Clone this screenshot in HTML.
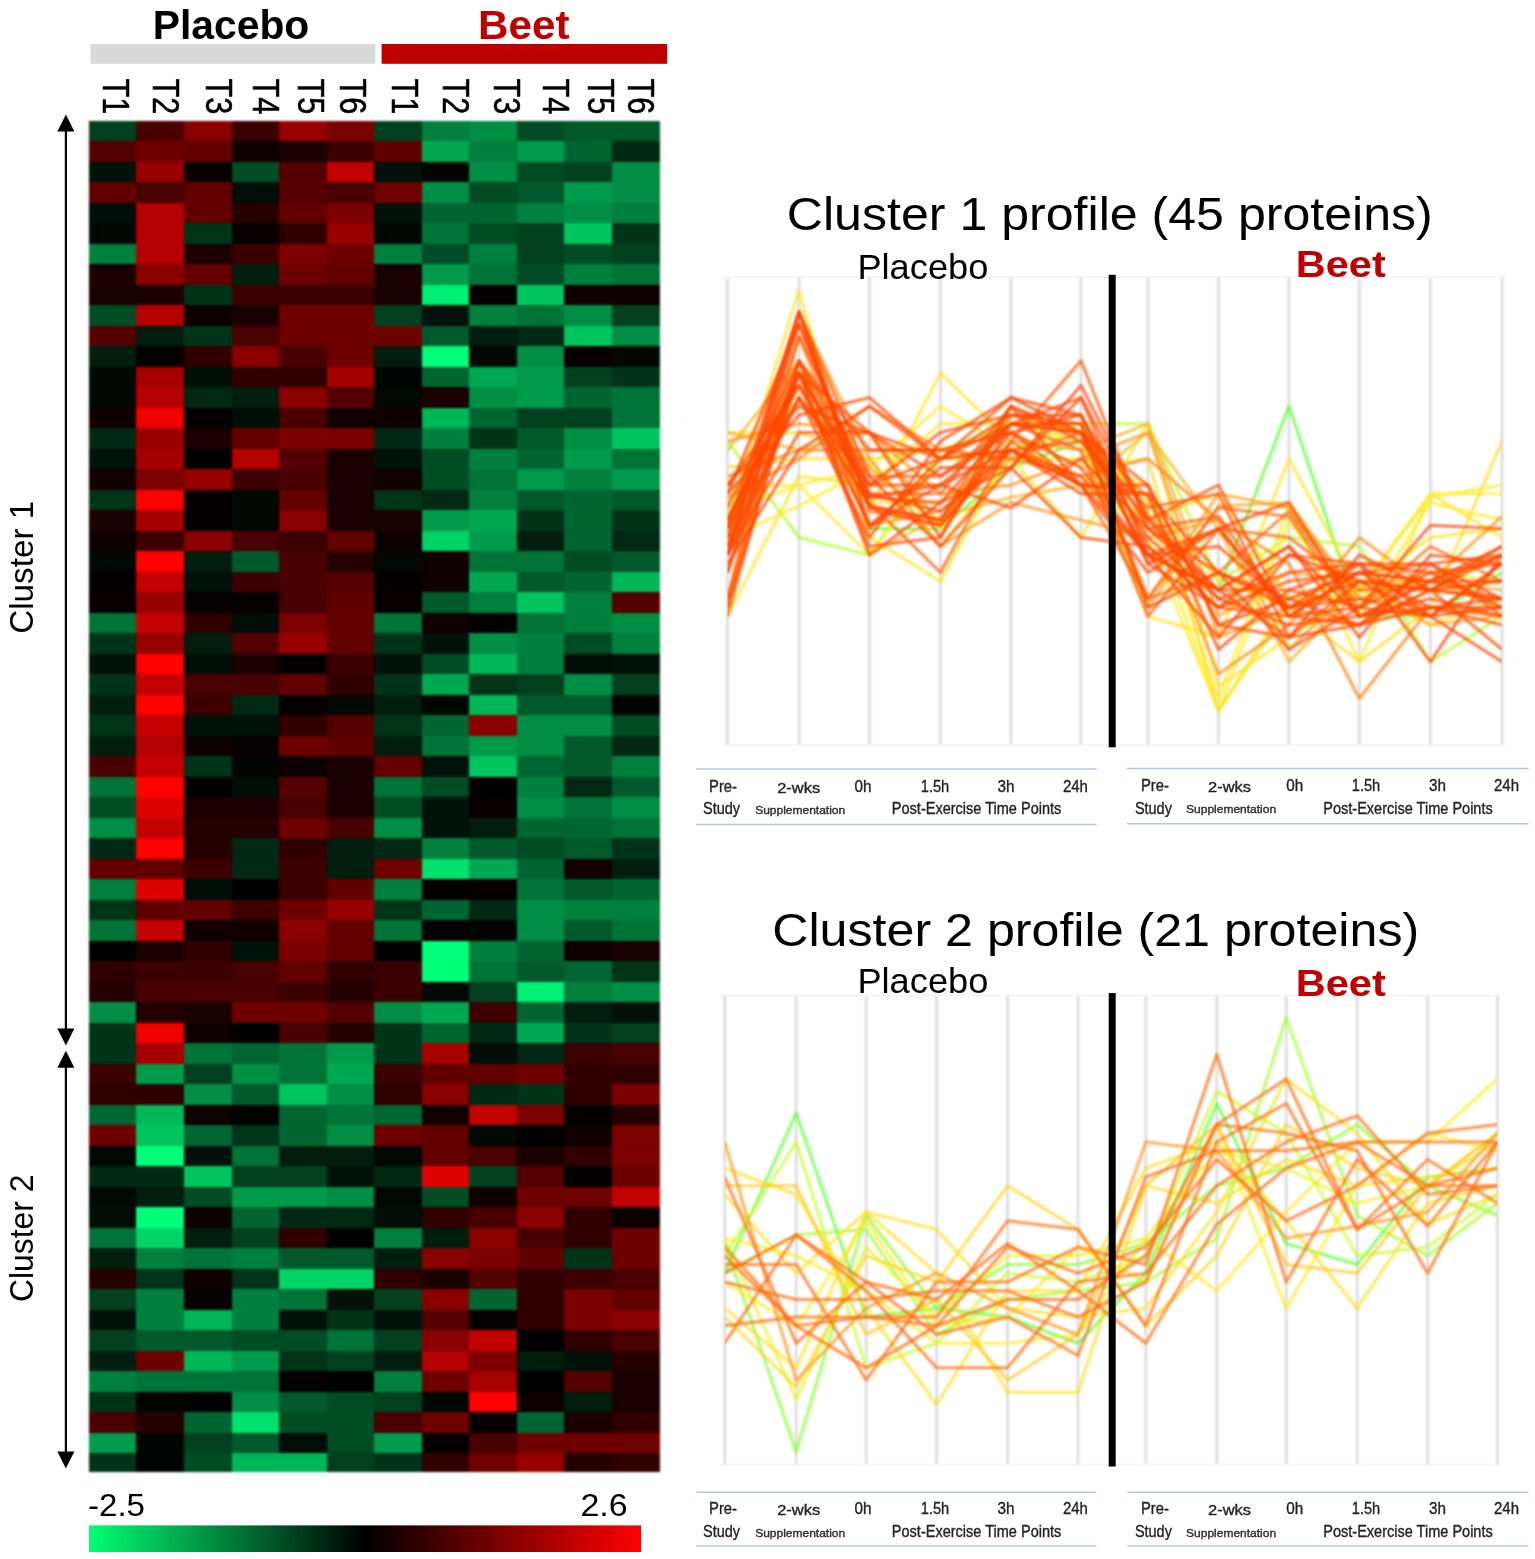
<!DOCTYPE html>
<html lang="en">
<head>
<meta charset="utf-8">
<title>Cluster heatmap and profiles</title>
<style>
html,body{margin:0;padding:0;background:#fff;}
body{width:1535px;height:1559px;overflow:hidden;}
svg{display:block;font-family:"Liberation Sans",sans-serif;}
</style>
</head>
<body>
<svg width="1535" height="1559" viewBox="0 0 1535 1559">
<defs>
<linearGradient id="cb" x1="0" x2="1" y1="0" y2="0">
<stop offset="0" stop-color="rgb(0,255,115)"/>
<stop offset="0.5" stop-color="#000"/>
<stop offset="1" stop-color="rgb(255,0,0)"/>
</linearGradient>
<filter id="b1" color-interpolation-filters="sRGB" x="-2%" y="-2%" width="104%" height="104%"><feGaussianBlur stdDeviation="1.2"/></filter>
<filter id="b2" color-interpolation-filters="sRGB" filterUnits="userSpaceOnUse" x="700" y="250" width="835" height="1250"><feGaussianBlur stdDeviation="0.8"/></filter>
<clipPath id="c1"><rect x="727.4" y="270" width="774.6" height="480"/></clipPath>
<clipPath id="c2"><rect x="724.7" y="990" width="772.8" height="480"/></clipPath>
</defs>
<rect width="1535" height="1559" fill="#fff"/>
<text x="152.8" y="38.5" font-size="41.5" font-weight="bold" textLength="156.5" lengthAdjust="spacingAndGlyphs">Placebo</text>
<text x="478.0" y="38.5" font-size="41.5" font-weight="bold" fill="#c00000" textLength="91.5" lengthAdjust="spacingAndGlyphs">Beet</text>
<rect x="90.4" y="44" width="285" height="19.8" fill="#d9d9d9"/>
<rect x="381.6" y="44" width="285.6" height="19.8" fill="#c00000"/>
<text font-size="36" textLength="35.8" lengthAdjust="spacingAndGlyphs" stroke="#000" stroke-width="0.5" transform="translate(103.0,78.6) rotate(90)">T1</text>
<text font-size="36" textLength="35.8" lengthAdjust="spacingAndGlyphs" stroke="#000" stroke-width="0.5" transform="translate(153.4,78.6) rotate(90)">T2</text>
<text font-size="36" textLength="35.8" lengthAdjust="spacingAndGlyphs" stroke="#000" stroke-width="0.5" transform="translate(206.2,78.6) rotate(90)">T3</text>
<text font-size="36" textLength="35.8" lengthAdjust="spacingAndGlyphs" stroke="#000" stroke-width="0.5" transform="translate(253.4,78.6) rotate(90)">T4</text>
<text font-size="36" textLength="35.8" lengthAdjust="spacingAndGlyphs" stroke="#000" stroke-width="0.5" transform="translate(298.0,78.6) rotate(90)">T5</text>
<text font-size="36" textLength="35.8" lengthAdjust="spacingAndGlyphs" stroke="#000" stroke-width="0.5" transform="translate(340.0,78.6) rotate(90)">T6</text>
<text font-size="36" textLength="35.8" lengthAdjust="spacingAndGlyphs" stroke="#000" stroke-width="0.5" transform="translate(391.6,78.6) rotate(90)">T1</text>
<text font-size="36" textLength="35.8" lengthAdjust="spacingAndGlyphs" stroke="#000" stroke-width="0.5" transform="translate(443.4,78.6) rotate(90)">T2</text>
<text font-size="36" textLength="35.8" lengthAdjust="spacingAndGlyphs" stroke="#000" stroke-width="0.5" transform="translate(494.0,78.6) rotate(90)">T3</text>
<text font-size="36" textLength="35.8" lengthAdjust="spacingAndGlyphs" stroke="#000" stroke-width="0.5" transform="translate(543.3,78.6) rotate(90)">T4</text>
<text font-size="36" textLength="35.8" lengthAdjust="spacingAndGlyphs" stroke="#000" stroke-width="0.5" transform="translate(587.9,78.6) rotate(90)">T5</text>
<text font-size="36" textLength="35.8" lengthAdjust="spacingAndGlyphs" stroke="#000" stroke-width="0.5" transform="translate(628.4,78.6) rotate(90)">T6</text>
<g filter="url(#b1)" shape-rendering="crispEdges">
<rect x="89" y="121" width="47" height="20" fill="rgb(0,64,31)"/>
<rect x="136" y="121" width="48" height="20" fill="rgb(72,0,0)"/>
<rect x="184" y="121" width="48" height="20" fill="rgb(138,0,0)"/>
<rect x="232" y="121" width="47" height="20" fill="rgb(60,0,0)"/>
<rect x="279" y="121" width="48" height="20" fill="rgb(152,0,0)"/>
<rect x="327" y="121" width="47" height="20" fill="rgb(124,0,0)"/>
<rect x="374" y="121" width="48" height="20" fill="rgb(0,64,31)"/>
<rect x="422" y="121" width="47" height="20" fill="rgb(0,128,61)"/>
<rect x="469" y="121" width="48" height="20" fill="rgb(0,142,68)"/>
<rect x="517" y="121" width="47" height="20" fill="rgb(0,76,36)"/>
<rect x="564" y="121" width="48" height="20" fill="rgb(0,89,43)"/>
<rect x="612" y="121" width="48" height="20" fill="rgb(0,89,43)"/>
<rect x="89" y="141" width="47" height="21" fill="rgb(85,0,0)"/>
<rect x="136" y="141" width="48" height="21" fill="rgb(111,0,0)"/>
<rect x="184" y="141" width="48" height="21" fill="rgb(98,0,0)"/>
<rect x="232" y="141" width="47" height="21" fill="rgb(16,0,0)"/>
<rect x="279" y="141" width="48" height="21" fill="rgb(26,0,0)"/>
<rect x="327" y="141" width="47" height="21" fill="rgb(60,0,0)"/>
<rect x="374" y="141" width="48" height="21" fill="rgb(98,0,0)"/>
<rect x="422" y="141" width="47" height="21" fill="rgb(0,169,81)"/>
<rect x="469" y="141" width="48" height="21" fill="rgb(0,128,61)"/>
<rect x="517" y="141" width="47" height="21" fill="rgb(0,155,74)"/>
<rect x="564" y="141" width="48" height="21" fill="rgb(0,102,49)"/>
<rect x="612" y="141" width="48" height="21" fill="rgb(0,40,19)"/>
<rect x="89" y="162" width="47" height="20" fill="rgb(0,18,9)"/>
<rect x="136" y="162" width="48" height="20" fill="rgb(152,0,0)"/>
<rect x="184" y="162" width="48" height="20" fill="rgb(7,0,0)"/>
<rect x="232" y="162" width="47" height="20" fill="rgb(0,76,36)"/>
<rect x="279" y="162" width="48" height="20" fill="rgb(85,0,0)"/>
<rect x="327" y="162" width="47" height="20" fill="rgb(195,0,0)"/>
<rect x="374" y="162" width="48" height="20" fill="rgb(0,18,9)"/>
<rect x="422" y="162" width="47" height="20" fill="rgb(0,5,2)"/>
<rect x="469" y="162" width="48" height="20" fill="rgb(0,142,68)"/>
<rect x="517" y="162" width="47" height="20" fill="rgb(0,76,36)"/>
<rect x="564" y="162" width="48" height="20" fill="rgb(0,64,31)"/>
<rect x="612" y="162" width="48" height="20" fill="rgb(0,142,68)"/>
<rect x="89" y="182" width="47" height="21" fill="rgb(98,0,0)"/>
<rect x="136" y="182" width="48" height="21" fill="rgb(72,0,0)"/>
<rect x="184" y="182" width="48" height="21" fill="rgb(98,0,0)"/>
<rect x="232" y="182" width="47" height="21" fill="rgb(0,14,7)"/>
<rect x="279" y="182" width="48" height="21" fill="rgb(85,0,0)"/>
<rect x="327" y="182" width="47" height="21" fill="rgb(72,0,0)"/>
<rect x="374" y="182" width="48" height="21" fill="rgb(111,0,0)"/>
<rect x="422" y="182" width="47" height="21" fill="rgb(0,142,68)"/>
<rect x="469" y="182" width="48" height="21" fill="rgb(0,76,36)"/>
<rect x="517" y="182" width="47" height="21" fill="rgb(0,89,43)"/>
<rect x="564" y="182" width="48" height="21" fill="rgb(0,155,74)"/>
<rect x="612" y="182" width="48" height="21" fill="rgb(0,142,68)"/>
<rect x="89" y="203" width="47" height="20" fill="rgb(0,14,7)"/>
<rect x="136" y="203" width="48" height="20" fill="rgb(181,0,0)"/>
<rect x="184" y="203" width="48" height="20" fill="rgb(98,0,0)"/>
<rect x="232" y="203" width="47" height="20" fill="rgb(37,0,0)"/>
<rect x="279" y="203" width="48" height="20" fill="rgb(98,0,0)"/>
<rect x="327" y="203" width="47" height="20" fill="rgb(124,0,0)"/>
<rect x="374" y="203" width="48" height="20" fill="rgb(0,18,9)"/>
<rect x="422" y="203" width="47" height="20" fill="rgb(0,102,49)"/>
<rect x="469" y="203" width="48" height="20" fill="rgb(0,102,49)"/>
<rect x="517" y="203" width="47" height="20" fill="rgb(0,128,61)"/>
<rect x="564" y="203" width="48" height="20" fill="rgb(0,142,68)"/>
<rect x="612" y="203" width="48" height="20" fill="rgb(0,128,61)"/>
<rect x="89" y="223" width="47" height="21" fill="rgb(0,8,4)"/>
<rect x="136" y="223" width="48" height="21" fill="rgb(181,0,0)"/>
<rect x="184" y="223" width="48" height="21" fill="rgb(0,52,25)"/>
<rect x="232" y="223" width="47" height="21" fill="rgb(7,0,0)"/>
<rect x="279" y="223" width="48" height="21" fill="rgb(48,0,0)"/>
<rect x="327" y="223" width="47" height="21" fill="rgb(152,0,0)"/>
<rect x="374" y="223" width="48" height="21" fill="rgb(0,8,4)"/>
<rect x="422" y="223" width="47" height="21" fill="rgb(0,115,55)"/>
<rect x="469" y="223" width="48" height="21" fill="rgb(0,76,36)"/>
<rect x="517" y="223" width="47" height="21" fill="rgb(0,64,31)"/>
<rect x="564" y="223" width="48" height="21" fill="rgb(0,197,95)"/>
<rect x="612" y="223" width="48" height="21" fill="rgb(0,52,25)"/>
<rect x="89" y="244" width="47" height="20" fill="rgb(0,128,61)"/>
<rect x="136" y="244" width="48" height="20" fill="rgb(181,0,0)"/>
<rect x="184" y="244" width="48" height="20" fill="rgb(26,0,0)"/>
<rect x="232" y="244" width="47" height="20" fill="rgb(60,0,0)"/>
<rect x="279" y="244" width="48" height="20" fill="rgb(124,0,0)"/>
<rect x="327" y="244" width="47" height="20" fill="rgb(111,0,0)"/>
<rect x="374" y="244" width="48" height="20" fill="rgb(0,128,61)"/>
<rect x="422" y="244" width="47" height="20" fill="rgb(0,76,36)"/>
<rect x="469" y="244" width="48" height="20" fill="rgb(0,128,61)"/>
<rect x="517" y="244" width="47" height="20" fill="rgb(0,64,31)"/>
<rect x="564" y="244" width="48" height="20" fill="rgb(0,76,36)"/>
<rect x="612" y="244" width="48" height="20" fill="rgb(0,64,31)"/>
<rect x="89" y="264" width="47" height="21" fill="rgb(26,0,0)"/>
<rect x="136" y="264" width="48" height="21" fill="rgb(138,0,0)"/>
<rect x="184" y="264" width="48" height="21" fill="rgb(98,0,0)"/>
<rect x="232" y="264" width="47" height="21" fill="rgb(0,29,14)"/>
<rect x="279" y="264" width="48" height="21" fill="rgb(111,0,0)"/>
<rect x="327" y="264" width="47" height="21" fill="rgb(98,0,0)"/>
<rect x="374" y="264" width="48" height="21" fill="rgb(26,0,0)"/>
<rect x="422" y="264" width="47" height="21" fill="rgb(0,155,74)"/>
<rect x="469" y="264" width="48" height="21" fill="rgb(0,115,55)"/>
<rect x="517" y="264" width="47" height="21" fill="rgb(0,76,36)"/>
<rect x="564" y="264" width="48" height="21" fill="rgb(0,128,61)"/>
<rect x="612" y="264" width="48" height="21" fill="rgb(0,115,55)"/>
<rect x="89" y="285" width="47" height="20" fill="rgb(26,0,0)"/>
<rect x="136" y="285" width="48" height="20" fill="rgb(26,0,0)"/>
<rect x="184" y="285" width="48" height="20" fill="rgb(0,52,25)"/>
<rect x="232" y="285" width="47" height="20" fill="rgb(60,0,0)"/>
<rect x="279" y="285" width="48" height="20" fill="rgb(60,0,0)"/>
<rect x="327" y="285" width="47" height="20" fill="rgb(60,0,0)"/>
<rect x="374" y="285" width="48" height="20" fill="rgb(26,0,0)"/>
<rect x="422" y="285" width="47" height="20" fill="rgb(0,240,115)"/>
<rect x="469" y="285" width="48" height="20" fill="rgb(4,0,0)"/>
<rect x="517" y="285" width="47" height="20" fill="rgb(0,197,95)"/>
<rect x="564" y="285" width="48" height="20" fill="rgb(16,0,0)"/>
<rect x="612" y="285" width="48" height="20" fill="rgb(16,0,0)"/>
<rect x="89" y="305" width="47" height="21" fill="rgb(0,76,36)"/>
<rect x="136" y="305" width="48" height="21" fill="rgb(181,0,0)"/>
<rect x="184" y="305" width="48" height="21" fill="rgb(12,0,0)"/>
<rect x="232" y="305" width="47" height="21" fill="rgb(26,0,0)"/>
<rect x="279" y="305" width="48" height="21" fill="rgb(111,0,0)"/>
<rect x="327" y="305" width="47" height="21" fill="rgb(111,0,0)"/>
<rect x="374" y="305" width="48" height="21" fill="rgb(0,64,31)"/>
<rect x="422" y="305" width="47" height="21" fill="rgb(0,18,9)"/>
<rect x="469" y="305" width="48" height="21" fill="rgb(0,128,61)"/>
<rect x="517" y="305" width="47" height="21" fill="rgb(0,115,55)"/>
<rect x="564" y="305" width="48" height="21" fill="rgb(0,142,68)"/>
<rect x="612" y="305" width="48" height="21" fill="rgb(0,64,31)"/>
<rect x="89" y="326" width="47" height="20" fill="rgb(85,0,0)"/>
<rect x="136" y="326" width="48" height="20" fill="rgb(0,29,14)"/>
<rect x="184" y="326" width="48" height="20" fill="rgb(0,52,25)"/>
<rect x="232" y="326" width="47" height="20" fill="rgb(72,0,0)"/>
<rect x="279" y="326" width="48" height="20" fill="rgb(111,0,0)"/>
<rect x="327" y="326" width="47" height="20" fill="rgb(111,0,0)"/>
<rect x="374" y="326" width="48" height="20" fill="rgb(111,0,0)"/>
<rect x="422" y="326" width="47" height="20" fill="rgb(0,89,43)"/>
<rect x="469" y="326" width="48" height="20" fill="rgb(0,29,14)"/>
<rect x="517" y="326" width="47" height="20" fill="rgb(0,40,19)"/>
<rect x="564" y="326" width="48" height="20" fill="rgb(0,197,95)"/>
<rect x="612" y="326" width="48" height="20" fill="rgb(0,142,68)"/>
<rect x="89" y="346" width="47" height="21" fill="rgb(0,29,14)"/>
<rect x="136" y="346" width="48" height="21" fill="rgb(4,0,0)"/>
<rect x="184" y="346" width="48" height="21" fill="rgb(48,0,0)"/>
<rect x="232" y="346" width="47" height="21" fill="rgb(138,0,0)"/>
<rect x="279" y="346" width="48" height="21" fill="rgb(72,0,0)"/>
<rect x="327" y="346" width="47" height="21" fill="rgb(111,0,0)"/>
<rect x="374" y="346" width="48" height="21" fill="rgb(0,29,14)"/>
<rect x="422" y="346" width="47" height="21" fill="rgb(0,255,122)"/>
<rect x="469" y="346" width="48" height="21" fill="rgb(0,8,4)"/>
<rect x="517" y="346" width="47" height="21" fill="rgb(0,142,68)"/>
<rect x="564" y="346" width="48" height="21" fill="rgb(7,0,0)"/>
<rect x="612" y="346" width="48" height="21" fill="rgb(0,8,4)"/>
<rect x="89" y="367" width="47" height="20" fill="rgb(0,8,4)"/>
<rect x="136" y="367" width="48" height="20" fill="rgb(166,0,0)"/>
<rect x="184" y="367" width="48" height="20" fill="rgb(0,14,7)"/>
<rect x="232" y="367" width="47" height="20" fill="rgb(48,0,0)"/>
<rect x="279" y="367" width="48" height="20" fill="rgb(48,0,0)"/>
<rect x="327" y="367" width="47" height="20" fill="rgb(166,0,0)"/>
<rect x="374" y="367" width="48" height="20" fill="rgb(0,5,2)"/>
<rect x="422" y="367" width="47" height="20" fill="rgb(0,102,49)"/>
<rect x="469" y="367" width="48" height="20" fill="rgb(0,169,81)"/>
<rect x="517" y="367" width="47" height="20" fill="rgb(0,155,74)"/>
<rect x="564" y="367" width="48" height="20" fill="rgb(0,64,31)"/>
<rect x="612" y="367" width="48" height="20" fill="rgb(0,52,25)"/>
<rect x="89" y="387" width="47" height="21" fill="rgb(0,8,4)"/>
<rect x="136" y="387" width="48" height="21" fill="rgb(181,0,0)"/>
<rect x="184" y="387" width="48" height="21" fill="rgb(0,40,19)"/>
<rect x="232" y="387" width="47" height="21" fill="rgb(0,29,14)"/>
<rect x="279" y="387" width="48" height="21" fill="rgb(138,0,0)"/>
<rect x="327" y="387" width="47" height="21" fill="rgb(85,0,0)"/>
<rect x="374" y="387" width="48" height="21" fill="rgb(0,8,4)"/>
<rect x="422" y="387" width="47" height="21" fill="rgb(26,0,0)"/>
<rect x="469" y="387" width="48" height="21" fill="rgb(0,142,68)"/>
<rect x="517" y="387" width="47" height="21" fill="rgb(0,155,74)"/>
<rect x="564" y="387" width="48" height="21" fill="rgb(0,102,49)"/>
<rect x="612" y="387" width="48" height="21" fill="rgb(0,115,55)"/>
<rect x="89" y="408" width="47" height="20" fill="rgb(16,0,0)"/>
<rect x="136" y="408" width="48" height="20" fill="rgb(240,0,0)"/>
<rect x="184" y="408" width="48" height="20" fill="rgb(2,0,0)"/>
<rect x="232" y="408" width="47" height="20" fill="rgb(0,14,7)"/>
<rect x="279" y="408" width="48" height="20" fill="rgb(72,0,0)"/>
<rect x="327" y="408" width="47" height="20" fill="rgb(16,0,0)"/>
<rect x="374" y="408" width="48" height="20" fill="rgb(16,0,0)"/>
<rect x="422" y="408" width="47" height="20" fill="rgb(0,183,88)"/>
<rect x="469" y="408" width="48" height="20" fill="rgb(0,102,49)"/>
<rect x="517" y="408" width="47" height="20" fill="rgb(0,64,31)"/>
<rect x="564" y="408" width="48" height="20" fill="rgb(0,64,31)"/>
<rect x="612" y="408" width="48" height="20" fill="rgb(0,115,55)"/>
<rect x="89" y="428" width="47" height="21" fill="rgb(0,40,19)"/>
<rect x="136" y="428" width="48" height="21" fill="rgb(152,0,0)"/>
<rect x="184" y="428" width="48" height="21" fill="rgb(26,0,0)"/>
<rect x="232" y="428" width="47" height="21" fill="rgb(98,0,0)"/>
<rect x="279" y="428" width="48" height="21" fill="rgb(124,0,0)"/>
<rect x="327" y="428" width="47" height="21" fill="rgb(124,0,0)"/>
<rect x="374" y="428" width="48" height="21" fill="rgb(0,40,19)"/>
<rect x="422" y="428" width="47" height="21" fill="rgb(0,128,61)"/>
<rect x="469" y="428" width="48" height="21" fill="rgb(0,52,25)"/>
<rect x="517" y="428" width="47" height="21" fill="rgb(0,89,43)"/>
<rect x="564" y="428" width="48" height="21" fill="rgb(0,142,68)"/>
<rect x="612" y="428" width="48" height="21" fill="rgb(0,197,95)"/>
<rect x="89" y="449" width="47" height="20" fill="rgb(0,18,9)"/>
<rect x="136" y="449" width="48" height="20" fill="rgb(166,0,0)"/>
<rect x="184" y="449" width="48" height="20" fill="rgb(2,0,0)"/>
<rect x="232" y="449" width="47" height="20" fill="rgb(181,0,0)"/>
<rect x="279" y="449" width="48" height="20" fill="rgb(85,0,0)"/>
<rect x="327" y="449" width="47" height="20" fill="rgb(26,0,0)"/>
<rect x="374" y="449" width="48" height="20" fill="rgb(0,18,9)"/>
<rect x="422" y="449" width="47" height="20" fill="rgb(0,76,36)"/>
<rect x="469" y="449" width="48" height="20" fill="rgb(0,128,61)"/>
<rect x="517" y="449" width="47" height="20" fill="rgb(0,102,49)"/>
<rect x="564" y="449" width="48" height="20" fill="rgb(0,155,74)"/>
<rect x="612" y="449" width="48" height="20" fill="rgb(0,115,55)"/>
<rect x="89" y="469" width="47" height="21" fill="rgb(16,0,0)"/>
<rect x="136" y="469" width="48" height="21" fill="rgb(124,0,0)"/>
<rect x="184" y="469" width="48" height="21" fill="rgb(152,0,0)"/>
<rect x="232" y="469" width="47" height="21" fill="rgb(60,0,0)"/>
<rect x="279" y="469" width="48" height="21" fill="rgb(72,0,0)"/>
<rect x="327" y="469" width="47" height="21" fill="rgb(26,0,0)"/>
<rect x="374" y="469" width="48" height="21" fill="rgb(16,0,0)"/>
<rect x="422" y="469" width="47" height="21" fill="rgb(0,76,36)"/>
<rect x="469" y="469" width="48" height="21" fill="rgb(0,115,55)"/>
<rect x="517" y="469" width="47" height="21" fill="rgb(0,155,74)"/>
<rect x="564" y="469" width="48" height="21" fill="rgb(0,128,61)"/>
<rect x="612" y="469" width="48" height="21" fill="rgb(0,155,74)"/>
<rect x="89" y="490" width="47" height="20" fill="rgb(0,52,25)"/>
<rect x="136" y="490" width="48" height="20" fill="rgb(255,0,0)"/>
<rect x="184" y="490" width="48" height="20" fill="rgb(4,0,0)"/>
<rect x="232" y="490" width="47" height="20" fill="rgb(0,8,4)"/>
<rect x="279" y="490" width="48" height="20" fill="rgb(98,0,0)"/>
<rect x="327" y="490" width="47" height="20" fill="rgb(26,0,0)"/>
<rect x="374" y="490" width="48" height="20" fill="rgb(0,52,25)"/>
<rect x="422" y="490" width="47" height="20" fill="rgb(0,40,19)"/>
<rect x="469" y="490" width="48" height="20" fill="rgb(0,128,61)"/>
<rect x="517" y="490" width="47" height="20" fill="rgb(0,89,43)"/>
<rect x="564" y="490" width="48" height="20" fill="rgb(0,102,49)"/>
<rect x="612" y="490" width="48" height="20" fill="rgb(0,89,43)"/>
<rect x="89" y="510" width="47" height="21" fill="rgb(26,0,0)"/>
<rect x="136" y="510" width="48" height="21" fill="rgb(166,0,0)"/>
<rect x="184" y="510" width="48" height="21" fill="rgb(4,0,0)"/>
<rect x="232" y="510" width="47" height="21" fill="rgb(0,8,4)"/>
<rect x="279" y="510" width="48" height="21" fill="rgb(138,0,0)"/>
<rect x="327" y="510" width="47" height="21" fill="rgb(26,0,0)"/>
<rect x="374" y="510" width="48" height="21" fill="rgb(26,0,0)"/>
<rect x="422" y="510" width="47" height="21" fill="rgb(0,155,74)"/>
<rect x="469" y="510" width="48" height="21" fill="rgb(0,169,81)"/>
<rect x="517" y="510" width="47" height="21" fill="rgb(0,52,25)"/>
<rect x="564" y="510" width="48" height="21" fill="rgb(0,102,49)"/>
<rect x="612" y="510" width="48" height="21" fill="rgb(0,52,25)"/>
<rect x="89" y="531" width="47" height="20" fill="rgb(12,0,0)"/>
<rect x="136" y="531" width="48" height="20" fill="rgb(60,0,0)"/>
<rect x="184" y="531" width="48" height="20" fill="rgb(138,0,0)"/>
<rect x="232" y="531" width="47" height="20" fill="rgb(72,0,0)"/>
<rect x="279" y="531" width="48" height="20" fill="rgb(60,0,0)"/>
<rect x="327" y="531" width="47" height="20" fill="rgb(98,0,0)"/>
<rect x="374" y="531" width="48" height="20" fill="rgb(12,0,0)"/>
<rect x="422" y="531" width="47" height="20" fill="rgb(0,212,102)"/>
<rect x="469" y="531" width="48" height="20" fill="rgb(0,155,74)"/>
<rect x="517" y="531" width="47" height="20" fill="rgb(0,29,14)"/>
<rect x="564" y="531" width="48" height="20" fill="rgb(0,102,49)"/>
<rect x="612" y="531" width="48" height="20" fill="rgb(0,40,19)"/>
<rect x="89" y="551" width="47" height="21" fill="rgb(0,8,4)"/>
<rect x="136" y="551" width="48" height="21" fill="rgb(255,0,0)"/>
<rect x="184" y="551" width="48" height="21" fill="rgb(0,29,14)"/>
<rect x="232" y="551" width="47" height="21" fill="rgb(0,89,43)"/>
<rect x="279" y="551" width="48" height="21" fill="rgb(72,0,0)"/>
<rect x="327" y="551" width="47" height="21" fill="rgb(37,0,0)"/>
<rect x="374" y="551" width="48" height="21" fill="rgb(0,8,4)"/>
<rect x="422" y="551" width="47" height="21" fill="rgb(16,0,0)"/>
<rect x="469" y="551" width="48" height="21" fill="rgb(0,115,55)"/>
<rect x="517" y="551" width="47" height="21" fill="rgb(0,115,55)"/>
<rect x="564" y="551" width="48" height="21" fill="rgb(0,76,36)"/>
<rect x="612" y="551" width="48" height="21" fill="rgb(0,89,43)"/>
<rect x="89" y="572" width="47" height="20" fill="rgb(2,0,0)"/>
<rect x="136" y="572" width="48" height="20" fill="rgb(195,0,0)"/>
<rect x="184" y="572" width="48" height="20" fill="rgb(0,18,9)"/>
<rect x="232" y="572" width="47" height="20" fill="rgb(60,0,0)"/>
<rect x="279" y="572" width="48" height="20" fill="rgb(72,0,0)"/>
<rect x="327" y="572" width="47" height="20" fill="rgb(85,0,0)"/>
<rect x="374" y="572" width="48" height="20" fill="rgb(2,0,0)"/>
<rect x="422" y="572" width="47" height="20" fill="rgb(16,0,0)"/>
<rect x="469" y="572" width="48" height="20" fill="rgb(0,169,81)"/>
<rect x="517" y="572" width="47" height="20" fill="rgb(0,89,43)"/>
<rect x="564" y="572" width="48" height="20" fill="rgb(0,102,49)"/>
<rect x="612" y="572" width="48" height="20" fill="rgb(0,183,88)"/>
<rect x="89" y="592" width="47" height="21" fill="rgb(7,0,0)"/>
<rect x="136" y="592" width="48" height="21" fill="rgb(152,0,0)"/>
<rect x="184" y="592" width="48" height="21" fill="rgb(7,0,0)"/>
<rect x="232" y="592" width="47" height="21" fill="rgb(7,0,0)"/>
<rect x="279" y="592" width="48" height="21" fill="rgb(72,0,0)"/>
<rect x="327" y="592" width="47" height="21" fill="rgb(98,0,0)"/>
<rect x="374" y="592" width="48" height="21" fill="rgb(7,0,0)"/>
<rect x="422" y="592" width="47" height="21" fill="rgb(0,89,43)"/>
<rect x="469" y="592" width="48" height="21" fill="rgb(0,128,61)"/>
<rect x="517" y="592" width="47" height="21" fill="rgb(0,197,95)"/>
<rect x="564" y="592" width="48" height="21" fill="rgb(0,128,61)"/>
<rect x="612" y="592" width="48" height="21" fill="rgb(85,0,0)"/>
<rect x="89" y="613" width="47" height="20" fill="rgb(0,115,55)"/>
<rect x="136" y="613" width="48" height="20" fill="rgb(195,0,0)"/>
<rect x="184" y="613" width="48" height="20" fill="rgb(48,0,0)"/>
<rect x="232" y="613" width="47" height="20" fill="rgb(0,14,7)"/>
<rect x="279" y="613" width="48" height="20" fill="rgb(124,0,0)"/>
<rect x="327" y="613" width="47" height="20" fill="rgb(98,0,0)"/>
<rect x="374" y="613" width="48" height="20" fill="rgb(0,115,55)"/>
<rect x="422" y="613" width="47" height="20" fill="rgb(16,0,0)"/>
<rect x="469" y="613" width="48" height="20" fill="rgb(2,0,0)"/>
<rect x="517" y="613" width="47" height="20" fill="rgb(0,115,55)"/>
<rect x="564" y="613" width="48" height="20" fill="rgb(0,128,61)"/>
<rect x="612" y="613" width="48" height="20" fill="rgb(0,142,68)"/>
<rect x="89" y="633" width="47" height="21" fill="rgb(0,52,25)"/>
<rect x="136" y="633" width="48" height="21" fill="rgb(152,0,0)"/>
<rect x="184" y="633" width="48" height="21" fill="rgb(0,29,14)"/>
<rect x="232" y="633" width="47" height="21" fill="rgb(85,0,0)"/>
<rect x="279" y="633" width="48" height="21" fill="rgb(152,0,0)"/>
<rect x="327" y="633" width="47" height="21" fill="rgb(98,0,0)"/>
<rect x="374" y="633" width="48" height="21" fill="rgb(0,52,25)"/>
<rect x="422" y="633" width="47" height="21" fill="rgb(0,18,9)"/>
<rect x="469" y="633" width="48" height="21" fill="rgb(0,142,68)"/>
<rect x="517" y="633" width="47" height="21" fill="rgb(0,128,61)"/>
<rect x="564" y="633" width="48" height="21" fill="rgb(0,76,36)"/>
<rect x="612" y="633" width="48" height="21" fill="rgb(0,128,61)"/>
<rect x="89" y="654" width="47" height="20" fill="rgb(0,18,9)"/>
<rect x="136" y="654" width="48" height="20" fill="rgb(255,0,0)"/>
<rect x="184" y="654" width="48" height="20" fill="rgb(0,14,7)"/>
<rect x="232" y="654" width="47" height="20" fill="rgb(26,0,0)"/>
<rect x="279" y="654" width="48" height="20" fill="rgb(2,0,0)"/>
<rect x="327" y="654" width="47" height="20" fill="rgb(60,0,0)"/>
<rect x="374" y="654" width="48" height="20" fill="rgb(0,18,9)"/>
<rect x="422" y="654" width="47" height="20" fill="rgb(0,76,36)"/>
<rect x="469" y="654" width="48" height="20" fill="rgb(0,183,88)"/>
<rect x="517" y="654" width="47" height="20" fill="rgb(0,128,61)"/>
<rect x="564" y="654" width="48" height="20" fill="rgb(0,14,7)"/>
<rect x="612" y="654" width="48" height="20" fill="rgb(0,18,9)"/>
<rect x="89" y="674" width="47" height="21" fill="rgb(0,52,25)"/>
<rect x="136" y="674" width="48" height="21" fill="rgb(195,0,0)"/>
<rect x="184" y="674" width="48" height="21" fill="rgb(72,0,0)"/>
<rect x="232" y="674" width="47" height="21" fill="rgb(72,0,0)"/>
<rect x="279" y="674" width="48" height="21" fill="rgb(98,0,0)"/>
<rect x="327" y="674" width="47" height="21" fill="rgb(48,0,0)"/>
<rect x="374" y="674" width="48" height="21" fill="rgb(0,52,25)"/>
<rect x="422" y="674" width="47" height="21" fill="rgb(0,169,81)"/>
<rect x="469" y="674" width="48" height="21" fill="rgb(0,52,25)"/>
<rect x="517" y="674" width="47" height="21" fill="rgb(0,64,31)"/>
<rect x="564" y="674" width="48" height="21" fill="rgb(0,142,68)"/>
<rect x="612" y="674" width="48" height="21" fill="rgb(0,64,31)"/>
<rect x="89" y="695" width="47" height="20" fill="rgb(0,29,14)"/>
<rect x="136" y="695" width="48" height="20" fill="rgb(255,0,0)"/>
<rect x="184" y="695" width="48" height="20" fill="rgb(60,0,0)"/>
<rect x="232" y="695" width="47" height="20" fill="rgb(0,40,19)"/>
<rect x="279" y="695" width="48" height="20" fill="rgb(7,0,0)"/>
<rect x="327" y="695" width="47" height="20" fill="rgb(0,8,4)"/>
<rect x="374" y="695" width="48" height="20" fill="rgb(0,29,14)"/>
<rect x="422" y="695" width="47" height="20" fill="rgb(0,8,4)"/>
<rect x="469" y="695" width="48" height="20" fill="rgb(0,183,88)"/>
<rect x="517" y="695" width="47" height="20" fill="rgb(0,89,43)"/>
<rect x="564" y="695" width="48" height="20" fill="rgb(0,89,43)"/>
<rect x="612" y="695" width="48" height="20" fill="rgb(0,5,2)"/>
<rect x="89" y="715" width="47" height="21" fill="rgb(0,52,25)"/>
<rect x="136" y="715" width="48" height="21" fill="rgb(195,0,0)"/>
<rect x="184" y="715" width="48" height="21" fill="rgb(0,18,9)"/>
<rect x="232" y="715" width="47" height="21" fill="rgb(0,18,9)"/>
<rect x="279" y="715" width="48" height="21" fill="rgb(48,0,0)"/>
<rect x="327" y="715" width="47" height="21" fill="rgb(85,0,0)"/>
<rect x="374" y="715" width="48" height="21" fill="rgb(0,52,25)"/>
<rect x="422" y="715" width="47" height="21" fill="rgb(0,102,49)"/>
<rect x="469" y="715" width="48" height="21" fill="rgb(138,0,0)"/>
<rect x="517" y="715" width="47" height="21" fill="rgb(0,142,68)"/>
<rect x="564" y="715" width="48" height="21" fill="rgb(0,142,68)"/>
<rect x="612" y="715" width="48" height="21" fill="rgb(0,76,36)"/>
<rect x="89" y="736" width="47" height="20" fill="rgb(0,29,14)"/>
<rect x="136" y="736" width="48" height="20" fill="rgb(181,0,0)"/>
<rect x="184" y="736" width="48" height="20" fill="rgb(12,0,0)"/>
<rect x="232" y="736" width="47" height="20" fill="rgb(7,0,0)"/>
<rect x="279" y="736" width="48" height="20" fill="rgb(111,0,0)"/>
<rect x="327" y="736" width="47" height="20" fill="rgb(98,0,0)"/>
<rect x="374" y="736" width="48" height="20" fill="rgb(0,29,14)"/>
<rect x="422" y="736" width="47" height="20" fill="rgb(0,115,55)"/>
<rect x="469" y="736" width="48" height="20" fill="rgb(0,155,74)"/>
<rect x="517" y="736" width="47" height="20" fill="rgb(0,142,68)"/>
<rect x="564" y="736" width="48" height="20" fill="rgb(0,89,43)"/>
<rect x="612" y="736" width="48" height="20" fill="rgb(0,40,19)"/>
<rect x="89" y="756" width="47" height="21" fill="rgb(72,0,0)"/>
<rect x="136" y="756" width="48" height="21" fill="rgb(195,0,0)"/>
<rect x="184" y="756" width="48" height="21" fill="rgb(0,52,25)"/>
<rect x="232" y="756" width="47" height="21" fill="rgb(0,5,2)"/>
<rect x="279" y="756" width="48" height="21" fill="rgb(12,0,0)"/>
<rect x="327" y="756" width="47" height="21" fill="rgb(26,0,0)"/>
<rect x="374" y="756" width="48" height="21" fill="rgb(98,0,0)"/>
<rect x="422" y="756" width="47" height="21" fill="rgb(0,18,9)"/>
<rect x="469" y="756" width="48" height="21" fill="rgb(0,197,95)"/>
<rect x="517" y="756" width="47" height="21" fill="rgb(0,102,49)"/>
<rect x="564" y="756" width="48" height="21" fill="rgb(0,89,43)"/>
<rect x="612" y="756" width="48" height="21" fill="rgb(0,128,61)"/>
<rect x="89" y="777" width="47" height="20" fill="rgb(0,115,55)"/>
<rect x="136" y="777" width="48" height="20" fill="rgb(255,0,0)"/>
<rect x="184" y="777" width="48" height="20" fill="rgb(0,0,0)"/>
<rect x="232" y="777" width="47" height="20" fill="rgb(0,14,7)"/>
<rect x="279" y="777" width="48" height="20" fill="rgb(85,0,0)"/>
<rect x="327" y="777" width="47" height="20" fill="rgb(26,0,0)"/>
<rect x="374" y="777" width="48" height="20" fill="rgb(0,115,55)"/>
<rect x="422" y="777" width="47" height="20" fill="rgb(0,76,36)"/>
<rect x="469" y="777" width="48" height="20" fill="rgb(0,0,0)"/>
<rect x="517" y="777" width="47" height="20" fill="rgb(0,128,61)"/>
<rect x="564" y="777" width="48" height="20" fill="rgb(0,40,19)"/>
<rect x="612" y="777" width="48" height="20" fill="rgb(0,89,43)"/>
<rect x="89" y="797" width="47" height="21" fill="rgb(0,76,36)"/>
<rect x="136" y="797" width="48" height="21" fill="rgb(225,0,0)"/>
<rect x="184" y="797" width="48" height="21" fill="rgb(26,0,0)"/>
<rect x="232" y="797" width="47" height="21" fill="rgb(26,0,0)"/>
<rect x="279" y="797" width="48" height="21" fill="rgb(72,0,0)"/>
<rect x="327" y="797" width="47" height="21" fill="rgb(26,0,0)"/>
<rect x="374" y="797" width="48" height="21" fill="rgb(0,76,36)"/>
<rect x="422" y="797" width="47" height="21" fill="rgb(0,18,9)"/>
<rect x="469" y="797" width="48" height="21" fill="rgb(7,0,0)"/>
<rect x="517" y="797" width="47" height="21" fill="rgb(0,142,68)"/>
<rect x="564" y="797" width="48" height="21" fill="rgb(0,115,55)"/>
<rect x="612" y="797" width="48" height="21" fill="rgb(0,142,68)"/>
<rect x="89" y="818" width="47" height="20" fill="rgb(0,142,68)"/>
<rect x="136" y="818" width="48" height="20" fill="rgb(195,0,0)"/>
<rect x="184" y="818" width="48" height="20" fill="rgb(37,0,0)"/>
<rect x="232" y="818" width="47" height="20" fill="rgb(37,0,0)"/>
<rect x="279" y="818" width="48" height="20" fill="rgb(111,0,0)"/>
<rect x="327" y="818" width="47" height="20" fill="rgb(72,0,0)"/>
<rect x="374" y="818" width="48" height="20" fill="rgb(0,142,68)"/>
<rect x="422" y="818" width="47" height="20" fill="rgb(0,18,9)"/>
<rect x="469" y="818" width="48" height="20" fill="rgb(0,29,14)"/>
<rect x="517" y="818" width="47" height="20" fill="rgb(0,102,49)"/>
<rect x="564" y="818" width="48" height="20" fill="rgb(0,102,49)"/>
<rect x="612" y="818" width="48" height="20" fill="rgb(0,115,55)"/>
<rect x="89" y="838" width="47" height="21" fill="rgb(0,40,19)"/>
<rect x="136" y="838" width="48" height="21" fill="rgb(255,0,0)"/>
<rect x="184" y="838" width="48" height="21" fill="rgb(37,0,0)"/>
<rect x="232" y="838" width="47" height="21" fill="rgb(0,40,19)"/>
<rect x="279" y="838" width="48" height="21" fill="rgb(48,0,0)"/>
<rect x="327" y="838" width="47" height="21" fill="rgb(0,29,14)"/>
<rect x="374" y="838" width="48" height="21" fill="rgb(0,40,19)"/>
<rect x="422" y="838" width="47" height="21" fill="rgb(0,128,61)"/>
<rect x="469" y="838" width="48" height="21" fill="rgb(0,89,43)"/>
<rect x="517" y="838" width="47" height="21" fill="rgb(0,76,36)"/>
<rect x="564" y="838" width="48" height="21" fill="rgb(0,89,43)"/>
<rect x="612" y="838" width="48" height="21" fill="rgb(0,52,25)"/>
<rect x="89" y="859" width="47" height="20" fill="rgb(98,0,0)"/>
<rect x="136" y="859" width="48" height="20" fill="rgb(98,0,0)"/>
<rect x="184" y="859" width="48" height="20" fill="rgb(60,0,0)"/>
<rect x="232" y="859" width="47" height="20" fill="rgb(0,40,19)"/>
<rect x="279" y="859" width="48" height="20" fill="rgb(60,0,0)"/>
<rect x="327" y="859" width="47" height="20" fill="rgb(0,29,14)"/>
<rect x="374" y="859" width="48" height="20" fill="rgb(111,0,0)"/>
<rect x="422" y="859" width="47" height="20" fill="rgb(0,226,108)"/>
<rect x="469" y="859" width="48" height="20" fill="rgb(0,169,81)"/>
<rect x="517" y="859" width="47" height="20" fill="rgb(0,102,49)"/>
<rect x="564" y="859" width="48" height="20" fill="rgb(16,0,0)"/>
<rect x="612" y="859" width="48" height="20" fill="rgb(0,29,14)"/>
<rect x="89" y="879" width="47" height="21" fill="rgb(0,128,61)"/>
<rect x="136" y="879" width="48" height="21" fill="rgb(225,0,0)"/>
<rect x="184" y="879" width="48" height="21" fill="rgb(0,14,7)"/>
<rect x="232" y="879" width="47" height="21" fill="rgb(0,0,0)"/>
<rect x="279" y="879" width="48" height="21" fill="rgb(60,0,0)"/>
<rect x="327" y="879" width="47" height="21" fill="rgb(98,0,0)"/>
<rect x="374" y="879" width="48" height="21" fill="rgb(0,128,61)"/>
<rect x="422" y="879" width="47" height="21" fill="rgb(4,0,0)"/>
<rect x="469" y="879" width="48" height="21" fill="rgb(7,0,0)"/>
<rect x="517" y="879" width="47" height="21" fill="rgb(0,115,55)"/>
<rect x="564" y="879" width="48" height="21" fill="rgb(0,89,43)"/>
<rect x="612" y="879" width="48" height="21" fill="rgb(0,102,49)"/>
<rect x="89" y="900" width="47" height="20" fill="rgb(0,52,25)"/>
<rect x="136" y="900" width="48" height="20" fill="rgb(98,0,0)"/>
<rect x="184" y="900" width="48" height="20" fill="rgb(98,0,0)"/>
<rect x="232" y="900" width="47" height="20" fill="rgb(60,0,0)"/>
<rect x="279" y="900" width="48" height="20" fill="rgb(111,0,0)"/>
<rect x="327" y="900" width="47" height="20" fill="rgb(152,0,0)"/>
<rect x="374" y="900" width="48" height="20" fill="rgb(0,52,25)"/>
<rect x="422" y="900" width="47" height="20" fill="rgb(0,102,49)"/>
<rect x="469" y="900" width="48" height="20" fill="rgb(0,40,19)"/>
<rect x="517" y="900" width="47" height="20" fill="rgb(0,142,68)"/>
<rect x="564" y="900" width="48" height="20" fill="rgb(0,128,61)"/>
<rect x="612" y="900" width="48" height="20" fill="rgb(0,128,61)"/>
<rect x="89" y="920" width="47" height="21" fill="rgb(0,115,55)"/>
<rect x="136" y="920" width="48" height="21" fill="rgb(195,0,0)"/>
<rect x="184" y="920" width="48" height="21" fill="rgb(16,0,0)"/>
<rect x="232" y="920" width="47" height="21" fill="rgb(16,0,0)"/>
<rect x="279" y="920" width="48" height="21" fill="rgb(138,0,0)"/>
<rect x="327" y="920" width="47" height="21" fill="rgb(98,0,0)"/>
<rect x="374" y="920" width="48" height="21" fill="rgb(0,115,55)"/>
<rect x="422" y="920" width="47" height="21" fill="rgb(2,0,0)"/>
<rect x="469" y="920" width="48" height="21" fill="rgb(0,5,2)"/>
<rect x="517" y="920" width="47" height="21" fill="rgb(0,142,68)"/>
<rect x="564" y="920" width="48" height="21" fill="rgb(0,89,43)"/>
<rect x="612" y="920" width="48" height="21" fill="rgb(0,115,55)"/>
<rect x="89" y="941" width="47" height="20" fill="rgb(0,0,0)"/>
<rect x="136" y="941" width="48" height="20" fill="rgb(26,0,0)"/>
<rect x="184" y="941" width="48" height="20" fill="rgb(48,0,0)"/>
<rect x="232" y="941" width="47" height="20" fill="rgb(0,18,9)"/>
<rect x="279" y="941" width="48" height="20" fill="rgb(124,0,0)"/>
<rect x="327" y="941" width="47" height="20" fill="rgb(98,0,0)"/>
<rect x="374" y="941" width="48" height="20" fill="rgb(0,0,0)"/>
<rect x="422" y="941" width="47" height="20" fill="rgb(0,255,122)"/>
<rect x="469" y="941" width="48" height="20" fill="rgb(0,128,61)"/>
<rect x="517" y="941" width="47" height="20" fill="rgb(0,102,49)"/>
<rect x="564" y="941" width="48" height="20" fill="rgb(12,0,0)"/>
<rect x="612" y="941" width="48" height="20" fill="rgb(26,0,0)"/>
<rect x="89" y="961" width="47" height="21" fill="rgb(48,0,0)"/>
<rect x="136" y="961" width="48" height="21" fill="rgb(60,0,0)"/>
<rect x="184" y="961" width="48" height="21" fill="rgb(60,0,0)"/>
<rect x="232" y="961" width="47" height="21" fill="rgb(72,0,0)"/>
<rect x="279" y="961" width="48" height="21" fill="rgb(98,0,0)"/>
<rect x="327" y="961" width="47" height="21" fill="rgb(48,0,0)"/>
<rect x="374" y="961" width="48" height="21" fill="rgb(60,0,0)"/>
<rect x="422" y="961" width="47" height="21" fill="rgb(0,255,122)"/>
<rect x="469" y="961" width="48" height="21" fill="rgb(0,115,55)"/>
<rect x="517" y="961" width="47" height="21" fill="rgb(0,89,43)"/>
<rect x="564" y="961" width="48" height="21" fill="rgb(0,102,49)"/>
<rect x="612" y="961" width="48" height="21" fill="rgb(0,52,25)"/>
<rect x="89" y="982" width="47" height="20" fill="rgb(37,0,0)"/>
<rect x="136" y="982" width="48" height="20" fill="rgb(72,0,0)"/>
<rect x="184" y="982" width="48" height="20" fill="rgb(72,0,0)"/>
<rect x="232" y="982" width="47" height="20" fill="rgb(72,0,0)"/>
<rect x="279" y="982" width="48" height="20" fill="rgb(60,0,0)"/>
<rect x="327" y="982" width="47" height="20" fill="rgb(37,0,0)"/>
<rect x="374" y="982" width="48" height="20" fill="rgb(60,0,0)"/>
<rect x="422" y="982" width="47" height="20" fill="rgb(0,8,4)"/>
<rect x="469" y="982" width="48" height="20" fill="rgb(0,64,31)"/>
<rect x="517" y="982" width="47" height="20" fill="rgb(0,240,115)"/>
<rect x="564" y="982" width="48" height="20" fill="rgb(0,128,61)"/>
<rect x="612" y="982" width="48" height="20" fill="rgb(0,142,68)"/>
<rect x="89" y="1002" width="47" height="21" fill="rgb(0,142,68)"/>
<rect x="136" y="1002" width="48" height="21" fill="rgb(37,0,0)"/>
<rect x="184" y="1002" width="48" height="21" fill="rgb(26,0,0)"/>
<rect x="232" y="1002" width="47" height="21" fill="rgb(111,0,0)"/>
<rect x="279" y="1002" width="48" height="21" fill="rgb(111,0,0)"/>
<rect x="327" y="1002" width="47" height="21" fill="rgb(85,0,0)"/>
<rect x="374" y="1002" width="48" height="21" fill="rgb(0,142,68)"/>
<rect x="422" y="1002" width="47" height="21" fill="rgb(0,169,81)"/>
<rect x="469" y="1002" width="48" height="21" fill="rgb(60,0,0)"/>
<rect x="517" y="1002" width="47" height="21" fill="rgb(0,102,49)"/>
<rect x="564" y="1002" width="48" height="21" fill="rgb(0,29,14)"/>
<rect x="612" y="1002" width="48" height="21" fill="rgb(0,18,9)"/>
<rect x="89" y="1023" width="47" height="20" fill="rgb(0,52,25)"/>
<rect x="136" y="1023" width="48" height="20" fill="rgb(240,0,0)"/>
<rect x="184" y="1023" width="48" height="20" fill="rgb(16,0,0)"/>
<rect x="232" y="1023" width="47" height="20" fill="rgb(0,0,0)"/>
<rect x="279" y="1023" width="48" height="20" fill="rgb(72,0,0)"/>
<rect x="327" y="1023" width="47" height="20" fill="rgb(37,0,0)"/>
<rect x="374" y="1023" width="48" height="20" fill="rgb(0,52,25)"/>
<rect x="422" y="1023" width="47" height="20" fill="rgb(0,102,49)"/>
<rect x="469" y="1023" width="48" height="20" fill="rgb(0,40,19)"/>
<rect x="517" y="1023" width="47" height="20" fill="rgb(0,169,81)"/>
<rect x="564" y="1023" width="48" height="20" fill="rgb(0,52,25)"/>
<rect x="612" y="1023" width="48" height="20" fill="rgb(0,64,31)"/>
<rect x="89" y="1043" width="47" height="21" fill="rgb(0,52,25)"/>
<rect x="136" y="1043" width="48" height="21" fill="rgb(166,0,0)"/>
<rect x="184" y="1043" width="48" height="21" fill="rgb(0,115,55)"/>
<rect x="232" y="1043" width="47" height="21" fill="rgb(0,102,49)"/>
<rect x="279" y="1043" width="48" height="21" fill="rgb(0,115,55)"/>
<rect x="327" y="1043" width="47" height="21" fill="rgb(0,155,74)"/>
<rect x="374" y="1043" width="48" height="21" fill="rgb(0,52,25)"/>
<rect x="422" y="1043" width="47" height="21" fill="rgb(166,0,0)"/>
<rect x="469" y="1043" width="48" height="21" fill="rgb(0,14,7)"/>
<rect x="517" y="1043" width="47" height="21" fill="rgb(0,40,19)"/>
<rect x="564" y="1043" width="48" height="21" fill="rgb(60,0,0)"/>
<rect x="612" y="1043" width="48" height="21" fill="rgb(72,0,0)"/>
<rect x="89" y="1064" width="47" height="20" fill="rgb(60,0,0)"/>
<rect x="136" y="1064" width="48" height="20" fill="rgb(0,155,74)"/>
<rect x="184" y="1064" width="48" height="20" fill="rgb(0,64,31)"/>
<rect x="232" y="1064" width="47" height="20" fill="rgb(0,142,68)"/>
<rect x="279" y="1064" width="48" height="20" fill="rgb(0,115,55)"/>
<rect x="327" y="1064" width="47" height="20" fill="rgb(0,169,81)"/>
<rect x="374" y="1064" width="48" height="20" fill="rgb(60,0,0)"/>
<rect x="422" y="1064" width="47" height="20" fill="rgb(98,0,0)"/>
<rect x="469" y="1064" width="48" height="20" fill="rgb(98,0,0)"/>
<rect x="517" y="1064" width="47" height="20" fill="rgb(111,0,0)"/>
<rect x="564" y="1064" width="48" height="20" fill="rgb(48,0,0)"/>
<rect x="612" y="1064" width="48" height="20" fill="rgb(48,0,0)"/>
<rect x="89" y="1084" width="47" height="21" fill="rgb(48,0,0)"/>
<rect x="136" y="1084" width="48" height="21" fill="rgb(48,0,0)"/>
<rect x="184" y="1084" width="48" height="21" fill="rgb(0,142,68)"/>
<rect x="232" y="1084" width="47" height="21" fill="rgb(0,89,43)"/>
<rect x="279" y="1084" width="48" height="21" fill="rgb(0,197,95)"/>
<rect x="327" y="1084" width="47" height="21" fill="rgb(0,142,68)"/>
<rect x="374" y="1084" width="48" height="21" fill="rgb(48,0,0)"/>
<rect x="422" y="1084" width="47" height="21" fill="rgb(138,0,0)"/>
<rect x="469" y="1084" width="48" height="21" fill="rgb(0,40,19)"/>
<rect x="517" y="1084" width="47" height="21" fill="rgb(0,52,25)"/>
<rect x="564" y="1084" width="48" height="21" fill="rgb(48,0,0)"/>
<rect x="612" y="1084" width="48" height="21" fill="rgb(124,0,0)"/>
<rect x="89" y="1105" width="47" height="20" fill="rgb(0,102,49)"/>
<rect x="136" y="1105" width="48" height="20" fill="rgb(0,183,88)"/>
<rect x="184" y="1105" width="48" height="20" fill="rgb(16,0,0)"/>
<rect x="232" y="1105" width="47" height="20" fill="rgb(0,0,0)"/>
<rect x="279" y="1105" width="48" height="20" fill="rgb(0,102,49)"/>
<rect x="327" y="1105" width="47" height="20" fill="rgb(0,115,55)"/>
<rect x="374" y="1105" width="48" height="20" fill="rgb(0,102,49)"/>
<rect x="422" y="1105" width="47" height="20" fill="rgb(16,0,0)"/>
<rect x="469" y="1105" width="48" height="20" fill="rgb(195,0,0)"/>
<rect x="517" y="1105" width="47" height="20" fill="rgb(124,0,0)"/>
<rect x="564" y="1105" width="48" height="20" fill="rgb(4,0,0)"/>
<rect x="612" y="1105" width="48" height="20" fill="rgb(37,0,0)"/>
<rect x="89" y="1125" width="47" height="21" fill="rgb(111,0,0)"/>
<rect x="136" y="1125" width="48" height="21" fill="rgb(0,197,95)"/>
<rect x="184" y="1125" width="48" height="21" fill="rgb(0,102,49)"/>
<rect x="232" y="1125" width="47" height="21" fill="rgb(0,52,25)"/>
<rect x="279" y="1125" width="48" height="21" fill="rgb(0,102,49)"/>
<rect x="327" y="1125" width="47" height="21" fill="rgb(0,142,68)"/>
<rect x="374" y="1125" width="48" height="21" fill="rgb(111,0,0)"/>
<rect x="422" y="1125" width="47" height="21" fill="rgb(98,0,0)"/>
<rect x="469" y="1125" width="48" height="21" fill="rgb(0,8,4)"/>
<rect x="517" y="1125" width="47" height="21" fill="rgb(2,0,0)"/>
<rect x="564" y="1125" width="48" height="21" fill="rgb(16,0,0)"/>
<rect x="612" y="1125" width="48" height="21" fill="rgb(124,0,0)"/>
<rect x="89" y="1146" width="47" height="20" fill="rgb(0,8,4)"/>
<rect x="136" y="1146" width="48" height="20" fill="rgb(0,255,122)"/>
<rect x="184" y="1146" width="48" height="20" fill="rgb(0,18,9)"/>
<rect x="232" y="1146" width="47" height="20" fill="rgb(0,115,55)"/>
<rect x="279" y="1146" width="48" height="20" fill="rgb(0,29,14)"/>
<rect x="327" y="1146" width="47" height="20" fill="rgb(0,29,14)"/>
<rect x="374" y="1146" width="48" height="20" fill="rgb(0,8,4)"/>
<rect x="422" y="1146" width="47" height="20" fill="rgb(98,0,0)"/>
<rect x="469" y="1146" width="48" height="20" fill="rgb(72,0,0)"/>
<rect x="517" y="1146" width="47" height="20" fill="rgb(26,0,0)"/>
<rect x="564" y="1146" width="48" height="20" fill="rgb(48,0,0)"/>
<rect x="612" y="1146" width="48" height="20" fill="rgb(124,0,0)"/>
<rect x="89" y="1166" width="47" height="21" fill="rgb(0,40,19)"/>
<rect x="136" y="1166" width="48" height="21" fill="rgb(0,40,19)"/>
<rect x="184" y="1166" width="48" height="21" fill="rgb(0,197,95)"/>
<rect x="232" y="1166" width="47" height="21" fill="rgb(0,64,31)"/>
<rect x="279" y="1166" width="48" height="21" fill="rgb(0,64,31)"/>
<rect x="327" y="1166" width="47" height="21" fill="rgb(0,18,9)"/>
<rect x="374" y="1166" width="48" height="21" fill="rgb(0,40,19)"/>
<rect x="422" y="1166" width="47" height="21" fill="rgb(225,0,0)"/>
<rect x="469" y="1166" width="48" height="21" fill="rgb(0,64,31)"/>
<rect x="517" y="1166" width="47" height="21" fill="rgb(85,0,0)"/>
<rect x="564" y="1166" width="48" height="21" fill="rgb(2,0,0)"/>
<rect x="612" y="1166" width="48" height="21" fill="rgb(111,0,0)"/>
<rect x="89" y="1187" width="47" height="20" fill="rgb(0,8,4)"/>
<rect x="136" y="1187" width="48" height="20" fill="rgb(0,29,14)"/>
<rect x="184" y="1187" width="48" height="20" fill="rgb(0,76,36)"/>
<rect x="232" y="1187" width="47" height="20" fill="rgb(0,155,74)"/>
<rect x="279" y="1187" width="48" height="20" fill="rgb(0,155,74)"/>
<rect x="327" y="1187" width="47" height="20" fill="rgb(0,142,68)"/>
<rect x="374" y="1187" width="48" height="20" fill="rgb(0,8,4)"/>
<rect x="422" y="1187" width="47" height="20" fill="rgb(0,76,36)"/>
<rect x="469" y="1187" width="48" height="20" fill="rgb(16,0,0)"/>
<rect x="517" y="1187" width="47" height="20" fill="rgb(111,0,0)"/>
<rect x="564" y="1187" width="48" height="20" fill="rgb(111,0,0)"/>
<rect x="612" y="1187" width="48" height="20" fill="rgb(195,0,0)"/>
<rect x="89" y="1207" width="47" height="21" fill="rgb(0,14,7)"/>
<rect x="136" y="1207" width="48" height="21" fill="rgb(0,255,122)"/>
<rect x="184" y="1207" width="48" height="21" fill="rgb(12,0,0)"/>
<rect x="232" y="1207" width="47" height="21" fill="rgb(0,102,49)"/>
<rect x="279" y="1207" width="48" height="21" fill="rgb(0,40,19)"/>
<rect x="327" y="1207" width="47" height="21" fill="rgb(0,40,19)"/>
<rect x="374" y="1207" width="48" height="21" fill="rgb(0,14,7)"/>
<rect x="422" y="1207" width="47" height="21" fill="rgb(48,0,0)"/>
<rect x="469" y="1207" width="48" height="21" fill="rgb(72,0,0)"/>
<rect x="517" y="1207" width="47" height="21" fill="rgb(138,0,0)"/>
<rect x="564" y="1207" width="48" height="21" fill="rgb(48,0,0)"/>
<rect x="612" y="1207" width="48" height="21" fill="rgb(12,0,0)"/>
<rect x="89" y="1228" width="47" height="20" fill="rgb(0,115,55)"/>
<rect x="136" y="1228" width="48" height="20" fill="rgb(0,212,102)"/>
<rect x="184" y="1228" width="48" height="20" fill="rgb(0,29,14)"/>
<rect x="232" y="1228" width="47" height="20" fill="rgb(0,64,31)"/>
<rect x="279" y="1228" width="48" height="20" fill="rgb(48,0,0)"/>
<rect x="327" y="1228" width="47" height="20" fill="rgb(0,0,0)"/>
<rect x="374" y="1228" width="48" height="20" fill="rgb(0,128,61)"/>
<rect x="422" y="1228" width="47" height="20" fill="rgb(0,29,14)"/>
<rect x="469" y="1228" width="48" height="20" fill="rgb(138,0,0)"/>
<rect x="517" y="1228" width="47" height="20" fill="rgb(72,0,0)"/>
<rect x="564" y="1228" width="48" height="20" fill="rgb(48,0,0)"/>
<rect x="612" y="1228" width="48" height="20" fill="rgb(111,0,0)"/>
<rect x="89" y="1248" width="47" height="21" fill="rgb(0,29,14)"/>
<rect x="136" y="1248" width="48" height="21" fill="rgb(0,128,61)"/>
<rect x="184" y="1248" width="48" height="21" fill="rgb(0,115,55)"/>
<rect x="232" y="1248" width="47" height="21" fill="rgb(0,128,61)"/>
<rect x="279" y="1248" width="48" height="21" fill="rgb(0,89,43)"/>
<rect x="327" y="1248" width="47" height="21" fill="rgb(0,89,43)"/>
<rect x="374" y="1248" width="48" height="21" fill="rgb(0,29,14)"/>
<rect x="422" y="1248" width="47" height="21" fill="rgb(138,0,0)"/>
<rect x="469" y="1248" width="48" height="21" fill="rgb(124,0,0)"/>
<rect x="517" y="1248" width="47" height="21" fill="rgb(98,0,0)"/>
<rect x="564" y="1248" width="48" height="21" fill="rgb(0,52,25)"/>
<rect x="612" y="1248" width="48" height="21" fill="rgb(111,0,0)"/>
<rect x="89" y="1269" width="47" height="20" fill="rgb(37,0,0)"/>
<rect x="136" y="1269" width="48" height="20" fill="rgb(0,52,25)"/>
<rect x="184" y="1269" width="48" height="20" fill="rgb(16,0,0)"/>
<rect x="232" y="1269" width="47" height="20" fill="rgb(0,52,25)"/>
<rect x="279" y="1269" width="48" height="20" fill="rgb(0,212,102)"/>
<rect x="327" y="1269" width="47" height="20" fill="rgb(0,212,102)"/>
<rect x="374" y="1269" width="48" height="20" fill="rgb(48,0,0)"/>
<rect x="422" y="1269" width="47" height="20" fill="rgb(26,0,0)"/>
<rect x="469" y="1269" width="48" height="20" fill="rgb(85,0,0)"/>
<rect x="517" y="1269" width="47" height="20" fill="rgb(48,0,0)"/>
<rect x="564" y="1269" width="48" height="20" fill="rgb(60,0,0)"/>
<rect x="612" y="1269" width="48" height="20" fill="rgb(72,0,0)"/>
<rect x="89" y="1289" width="47" height="21" fill="rgb(0,64,31)"/>
<rect x="136" y="1289" width="48" height="21" fill="rgb(0,128,61)"/>
<rect x="184" y="1289" width="48" height="21" fill="rgb(7,0,0)"/>
<rect x="232" y="1289" width="47" height="21" fill="rgb(0,128,61)"/>
<rect x="279" y="1289" width="48" height="21" fill="rgb(0,115,55)"/>
<rect x="327" y="1289" width="47" height="21" fill="rgb(0,18,9)"/>
<rect x="374" y="1289" width="48" height="21" fill="rgb(0,64,31)"/>
<rect x="422" y="1289" width="47" height="21" fill="rgb(138,0,0)"/>
<rect x="469" y="1289" width="48" height="21" fill="rgb(0,102,49)"/>
<rect x="517" y="1289" width="47" height="21" fill="rgb(48,0,0)"/>
<rect x="564" y="1289" width="48" height="21" fill="rgb(124,0,0)"/>
<rect x="612" y="1289" width="48" height="21" fill="rgb(98,0,0)"/>
<rect x="89" y="1310" width="47" height="20" fill="rgb(0,18,9)"/>
<rect x="136" y="1310" width="48" height="20" fill="rgb(0,128,61)"/>
<rect x="184" y="1310" width="48" height="20" fill="rgb(0,183,88)"/>
<rect x="232" y="1310" width="47" height="20" fill="rgb(0,128,61)"/>
<rect x="279" y="1310" width="48" height="20" fill="rgb(0,18,9)"/>
<rect x="327" y="1310" width="47" height="20" fill="rgb(0,52,25)"/>
<rect x="374" y="1310" width="48" height="20" fill="rgb(0,18,9)"/>
<rect x="422" y="1310" width="47" height="20" fill="rgb(85,0,0)"/>
<rect x="469" y="1310" width="48" height="20" fill="rgb(7,0,0)"/>
<rect x="517" y="1310" width="47" height="20" fill="rgb(48,0,0)"/>
<rect x="564" y="1310" width="48" height="20" fill="rgb(124,0,0)"/>
<rect x="612" y="1310" width="48" height="20" fill="rgb(138,0,0)"/>
<rect x="89" y="1330" width="47" height="21" fill="rgb(0,64,31)"/>
<rect x="136" y="1330" width="48" height="21" fill="rgb(0,89,43)"/>
<rect x="184" y="1330" width="48" height="21" fill="rgb(0,89,43)"/>
<rect x="232" y="1330" width="47" height="21" fill="rgb(0,76,36)"/>
<rect x="279" y="1330" width="48" height="21" fill="rgb(0,76,36)"/>
<rect x="327" y="1330" width="47" height="21" fill="rgb(0,115,55)"/>
<rect x="374" y="1330" width="48" height="21" fill="rgb(0,64,31)"/>
<rect x="422" y="1330" width="47" height="21" fill="rgb(138,0,0)"/>
<rect x="469" y="1330" width="48" height="21" fill="rgb(195,0,0)"/>
<rect x="517" y="1330" width="47" height="21" fill="rgb(0,0,0)"/>
<rect x="564" y="1330" width="48" height="21" fill="rgb(48,0,0)"/>
<rect x="612" y="1330" width="48" height="21" fill="rgb(72,0,0)"/>
<rect x="89" y="1351" width="47" height="20" fill="rgb(0,29,14)"/>
<rect x="136" y="1351" width="48" height="20" fill="rgb(111,0,0)"/>
<rect x="184" y="1351" width="48" height="20" fill="rgb(0,183,88)"/>
<rect x="232" y="1351" width="47" height="20" fill="rgb(0,155,74)"/>
<rect x="279" y="1351" width="48" height="20" fill="rgb(0,52,25)"/>
<rect x="327" y="1351" width="47" height="20" fill="rgb(0,64,31)"/>
<rect x="374" y="1351" width="48" height="20" fill="rgb(0,29,14)"/>
<rect x="422" y="1351" width="47" height="20" fill="rgb(181,0,0)"/>
<rect x="469" y="1351" width="48" height="20" fill="rgb(124,0,0)"/>
<rect x="517" y="1351" width="47" height="20" fill="rgb(0,29,14)"/>
<rect x="564" y="1351" width="48" height="20" fill="rgb(0,18,9)"/>
<rect x="612" y="1351" width="48" height="20" fill="rgb(37,0,0)"/>
<rect x="89" y="1371" width="47" height="21" fill="rgb(0,128,61)"/>
<rect x="136" y="1371" width="48" height="21" fill="rgb(0,115,55)"/>
<rect x="184" y="1371" width="48" height="21" fill="rgb(0,115,55)"/>
<rect x="232" y="1371" width="47" height="21" fill="rgb(0,115,55)"/>
<rect x="279" y="1371" width="48" height="21" fill="rgb(7,0,0)"/>
<rect x="327" y="1371" width="47" height="21" fill="rgb(0,0,0)"/>
<rect x="374" y="1371" width="48" height="21" fill="rgb(0,128,61)"/>
<rect x="422" y="1371" width="47" height="21" fill="rgb(111,0,0)"/>
<rect x="469" y="1371" width="48" height="21" fill="rgb(166,0,0)"/>
<rect x="517" y="1371" width="47" height="21" fill="rgb(0,0,0)"/>
<rect x="564" y="1371" width="48" height="21" fill="rgb(85,0,0)"/>
<rect x="612" y="1371" width="48" height="21" fill="rgb(26,0,0)"/>
<rect x="89" y="1392" width="47" height="20" fill="rgb(0,52,25)"/>
<rect x="136" y="1392" width="48" height="20" fill="rgb(0,5,2)"/>
<rect x="184" y="1392" width="48" height="20" fill="rgb(0,0,0)"/>
<rect x="232" y="1392" width="47" height="20" fill="rgb(0,142,68)"/>
<rect x="279" y="1392" width="48" height="20" fill="rgb(0,89,43)"/>
<rect x="327" y="1392" width="47" height="20" fill="rgb(0,76,36)"/>
<rect x="374" y="1392" width="48" height="20" fill="rgb(0,64,31)"/>
<rect x="422" y="1392" width="47" height="20" fill="rgb(0,8,4)"/>
<rect x="469" y="1392" width="48" height="20" fill="rgb(255,0,0)"/>
<rect x="517" y="1392" width="47" height="20" fill="rgb(12,0,0)"/>
<rect x="564" y="1392" width="48" height="20" fill="rgb(0,29,14)"/>
<rect x="612" y="1392" width="48" height="20" fill="rgb(26,0,0)"/>
<rect x="89" y="1412" width="47" height="21" fill="rgb(72,0,0)"/>
<rect x="136" y="1412" width="48" height="21" fill="rgb(37,0,0)"/>
<rect x="184" y="1412" width="48" height="21" fill="rgb(0,102,49)"/>
<rect x="232" y="1412" width="47" height="21" fill="rgb(0,226,108)"/>
<rect x="279" y="1412" width="48" height="21" fill="rgb(0,76,36)"/>
<rect x="327" y="1412" width="47" height="21" fill="rgb(0,76,36)"/>
<rect x="374" y="1412" width="48" height="21" fill="rgb(72,0,0)"/>
<rect x="422" y="1412" width="47" height="21" fill="rgb(111,0,0)"/>
<rect x="469" y="1412" width="48" height="21" fill="rgb(7,0,0)"/>
<rect x="517" y="1412" width="47" height="21" fill="rgb(0,102,49)"/>
<rect x="564" y="1412" width="48" height="21" fill="rgb(26,0,0)"/>
<rect x="612" y="1412" width="48" height="21" fill="rgb(48,0,0)"/>
<rect x="89" y="1433" width="47" height="20" fill="rgb(0,155,74)"/>
<rect x="136" y="1433" width="48" height="20" fill="rgb(0,5,2)"/>
<rect x="184" y="1433" width="48" height="20" fill="rgb(0,64,31)"/>
<rect x="232" y="1433" width="47" height="20" fill="rgb(0,89,43)"/>
<rect x="279" y="1433" width="48" height="20" fill="rgb(0,14,7)"/>
<rect x="327" y="1433" width="47" height="20" fill="rgb(0,76,36)"/>
<rect x="374" y="1433" width="48" height="20" fill="rgb(0,155,74)"/>
<rect x="422" y="1433" width="47" height="20" fill="rgb(4,0,0)"/>
<rect x="469" y="1433" width="48" height="20" fill="rgb(72,0,0)"/>
<rect x="517" y="1433" width="47" height="20" fill="rgb(111,0,0)"/>
<rect x="564" y="1433" width="48" height="20" fill="rgb(111,0,0)"/>
<rect x="612" y="1433" width="48" height="20" fill="rgb(111,0,0)"/>
<rect x="89" y="1453" width="47" height="19" fill="rgb(0,52,25)"/>
<rect x="136" y="1453" width="48" height="19" fill="rgb(0,5,2)"/>
<rect x="184" y="1453" width="48" height="19" fill="rgb(0,76,36)"/>
<rect x="232" y="1453" width="47" height="19" fill="rgb(0,183,88)"/>
<rect x="279" y="1453" width="48" height="19" fill="rgb(0,183,88)"/>
<rect x="327" y="1453" width="47" height="19" fill="rgb(0,64,31)"/>
<rect x="374" y="1453" width="48" height="19" fill="rgb(0,52,25)"/>
<rect x="422" y="1453" width="47" height="19" fill="rgb(48,0,0)"/>
<rect x="469" y="1453" width="48" height="19" fill="rgb(111,0,0)"/>
<rect x="517" y="1453" width="47" height="19" fill="rgb(152,0,0)"/>
<rect x="564" y="1453" width="48" height="19" fill="rgb(37,0,0)"/>
<rect x="612" y="1453" width="48" height="19" fill="rgb(48,0,0)"/>
</g>
<line x1="65.9" y1="124.6" x2="65.9" y2="1035.4" stroke="#000" stroke-width="2.2"/>
<polygon points="65.9,114.6 57.400000000000006,131.6 74.4,131.6" fill="#000"/>
<polygon points="65.9,1045.4 57.400000000000006,1028.4 74.4,1028.4" fill="#000"/>
<line x1="65.9" y1="1060.8" x2="65.9" y2="1458.5" stroke="#000" stroke-width="2.2"/>
<polygon points="65.9,1050.8 57.400000000000006,1067.8 74.4,1067.8" fill="#000"/>
<polygon points="65.9,1468.5 57.400000000000006,1451.5 74.4,1451.5" fill="#000"/>
<text font-size="33.5" textLength="133" lengthAdjust="spacingAndGlyphs" transform="translate(33.2,633.8) rotate(-90)">Cluster 1</text>
<text font-size="33.5" textLength="127.5" lengthAdjust="spacingAndGlyphs" transform="translate(33.2,1302) rotate(-90)">Cluster 2</text>
<rect x="89" y="1525.4" width="552" height="26.6" fill="url(#cb)"/>
<text x="88" y="1516.3" font-size="31" textLength="57" lengthAdjust="spacingAndGlyphs">-2.5</text>
<text x="580.4" y="1516.3" font-size="31" textLength="47.2" lengthAdjust="spacingAndGlyphs">2.6</text>
<text x="786.8" y="229.5" font-size="46" textLength="646" lengthAdjust="spacingAndGlyphs">Cluster 1 profile (45 proteins)</text>
<text x="772.2" y="945.8" font-size="46" textLength="647" lengthAdjust="spacingAndGlyphs">Cluster 2 profile (21 proteins)</text>
<line x1="727.4" y1="277.3" x2="727.4" y2="745.3" stroke="#dcdcdc" stroke-width="2.8" filter="url(#b2)"/>
<line x1="799" y1="277.3" x2="799" y2="745.3" stroke="#dcdcdc" stroke-width="2.8" filter="url(#b2)"/>
<line x1="869.5" y1="277.3" x2="869.5" y2="745.3" stroke="#dcdcdc" stroke-width="2.8" filter="url(#b2)"/>
<line x1="940.5" y1="277.3" x2="940.5" y2="745.3" stroke="#dcdcdc" stroke-width="2.8" filter="url(#b2)"/>
<line x1="1011" y1="277.3" x2="1011" y2="745.3" stroke="#dcdcdc" stroke-width="2.8" filter="url(#b2)"/>
<line x1="1081" y1="277.3" x2="1081" y2="745.3" stroke="#dcdcdc" stroke-width="2.8" filter="url(#b2)"/>
<line x1="1148" y1="277.3" x2="1148" y2="745.3" stroke="#dcdcdc" stroke-width="2.8" filter="url(#b2)"/>
<line x1="1218.5" y1="277.3" x2="1218.5" y2="745.3" stroke="#dcdcdc" stroke-width="2.8" filter="url(#b2)"/>
<line x1="1289" y1="277.3" x2="1289" y2="745.3" stroke="#dcdcdc" stroke-width="2.8" filter="url(#b2)"/>
<line x1="1359.4" y1="277.3" x2="1359.4" y2="745.3" stroke="#dcdcdc" stroke-width="2.8" filter="url(#b2)"/>
<line x1="1430.4" y1="277.3" x2="1430.4" y2="745.3" stroke="#dcdcdc" stroke-width="2.8" filter="url(#b2)"/>
<line x1="1502" y1="277.3" x2="1502" y2="745.3" stroke="#dcdcdc" stroke-width="2.8" filter="url(#b2)"/>
<line x1="722.4" y1="277.3" x2="1505" y2="277.3" stroke="#f3f3f3" stroke-width="1.5"/>
<line x1="722.4" y1="745.3" x2="1505" y2="745.3" stroke="#f3f3f3" stroke-width="1.5"/>
<g fill="none" stroke-width="3.1" stroke-linejoin="round" stroke-opacity="0.72" clip-path="url(#c1)" filter="url(#b2)">
<polyline points="727.4,555.0 799.0,360.8 869.5,528.8 940.5,528.8 1011.0,467.6 1081.0,441.3 1148.0,555.0 1218.5,590.0 1289.0,406.3 1359.4,616.3 1430.4,616.3 1502.0,572.5" stroke="rgb(90,255,50)"/>
<polyline points="727.4,441.3 799.0,537.5 869.5,555.0 940.5,450.1 1011.0,423.8 1081.0,423.8 1148.0,423.8 1218.5,581.3 1289.0,537.5 1359.4,546.3 1430.4,661.8 1502.0,616.3" stroke="rgb(173,255,42)"/>
<polyline points="727.4,485.1 799.0,485.1 869.5,555.0 940.5,458.8 1011.0,458.8 1081.0,458.8 1148.0,485.1 1218.5,698.5 1289.0,506.1 1359.4,661.8 1430.4,493.8 1502.0,493.8" stroke="rgb(255,235,30)"/>
<polyline points="727.4,537.5 799.0,506.1 869.5,467.6 940.5,406.3 1011.0,450.1 1081.0,423.8 1148.0,537.5 1218.5,710.8 1289.0,520.0 1359.4,616.3 1430.4,502.6 1502.0,520.0" stroke="rgb(255,235,30)"/>
<polyline points="727.4,511.3 799.0,485.1 869.5,467.6 940.5,528.8 1011.0,415.1 1081.0,432.6 1148.0,511.3 1218.5,710.8 1289.0,607.5 1359.4,590.0 1430.4,497.3 1502.0,485.1" stroke="rgb(255,235,30)"/>
<polyline points="727.4,528.8 799.0,385.3 869.5,507.8 940.5,373.1 1011.0,441.3 1081.0,485.1 1148.0,528.8 1218.5,572.5 1289.0,607.5 1359.4,590.0 1430.4,625.0 1502.0,598.8" stroke="rgb(255,230,30)"/>
<polyline points="727.4,520.0 799.0,290.8 869.5,537.5 940.5,581.3 1011.0,450.1 1081.0,476.3 1148.0,520.0 1218.5,493.8 1289.0,598.8 1359.4,598.8 1430.4,572.5 1502.0,581.3" stroke="rgb(255,230,30)"/>
<polyline points="727.4,432.6 799.0,432.6 869.5,458.8 940.5,546.3 1011.0,458.8 1081.0,537.5 1148.0,423.8 1218.5,686.3 1289.0,637.3 1359.4,590.0 1430.4,493.8 1502.0,537.5" stroke="rgb(255,230,30)"/>
<polyline points="727.4,616.3 799.0,476.3 869.5,485.1 940.5,423.8 1011.0,423.8 1081.0,441.3 1148.0,616.3 1218.5,637.3 1289.0,458.8 1359.4,590.0 1430.4,537.5 1502.0,528.8" stroke="rgb(255,227,30)"/>
<polyline points="727.4,502.6 799.0,397.6 869.5,502.6 940.5,502.6 1011.0,450.1 1081.0,432.6 1148.0,502.6 1218.5,581.3 1289.0,607.5 1359.4,661.8 1430.4,607.5 1502.0,441.3" stroke="rgb(255,222,30)"/>
<polyline points="727.4,467.6 799.0,458.8 869.5,458.8 940.5,450.1 1011.0,432.6 1081.0,467.6 1148.0,458.8 1218.5,710.8 1289.0,598.8 1359.4,581.3 1430.4,590.0 1502.0,555.0" stroke="rgb(255,222,30)"/>
<polyline points="727.4,450.1 799.0,360.8 869.5,555.0 940.5,516.5 1011.0,497.3 1081.0,485.1 1148.0,432.6 1218.5,528.8 1289.0,661.8 1359.4,590.0 1430.4,581.3 1502.0,607.5" stroke="rgb(255,179,30)"/>
<polyline points="727.4,432.6 799.0,450.1 869.5,432.6 940.5,525.3 1011.0,441.3 1081.0,450.1 1148.0,423.8 1218.5,616.3 1289.0,572.5 1359.4,581.3 1430.4,625.0 1502.0,616.3" stroke="rgb(255,171,30)"/>
<polyline points="727.4,607.5 799.0,336.3 869.5,525.3 940.5,511.3 1011.0,458.8 1081.0,432.6 1148.0,607.5 1218.5,506.1 1289.0,502.6 1359.4,598.8 1430.4,581.3 1502.0,590.0" stroke="rgb(255,164,28)"/>
<polyline points="727.4,598.8 799.0,360.8 869.5,467.6 940.5,525.3 1011.0,415.1 1081.0,432.6 1148.0,598.8 1218.5,493.8 1289.0,507.8 1359.4,598.8 1430.4,607.5 1502.0,616.3" stroke="rgb(255,157,26)"/>
<polyline points="727.4,537.5 799.0,311.8 869.5,458.8 940.5,546.3 1011.0,502.6 1081.0,520.0 1148.0,537.5 1218.5,520.0 1289.0,649.5 1359.4,581.3 1430.4,581.3 1502.0,516.5" stroke="rgb(255,150,25)"/>
<polyline points="727.4,441.3 799.0,423.8 869.5,432.6 940.5,493.8 1011.0,485.1 1081.0,458.8 1148.0,432.6 1218.5,637.3 1289.0,607.5 1359.4,625.0 1430.4,590.0 1502.0,546.3" stroke="rgb(255,143,23)"/>
<polyline points="727.4,497.3 799.0,458.8 869.5,406.3 940.5,450.1 1011.0,458.8 1081.0,432.6 1148.0,497.3 1218.5,674.0 1289.0,625.0 1359.4,537.5 1430.4,590.0 1502.0,546.3" stroke="rgb(255,136,21)"/>
<polyline points="727.4,476.3 799.0,450.1 869.5,450.1 940.5,450.1 1011.0,458.8 1081.0,476.3 1148.0,458.8 1218.5,520.0 1289.0,563.8 1359.4,698.5 1430.4,607.5 1502.0,616.3" stroke="rgb(255,130,19)"/>
<polyline points="727.4,598.8 799.0,311.8 869.5,511.3 940.5,525.3 1011.0,441.3 1081.0,485.1 1148.0,598.8 1218.5,572.5 1289.0,511.3 1359.4,607.5 1430.4,546.3 1502.0,581.3" stroke="rgb(255,105,12)"/>
<polyline points="727.4,598.8 799.0,360.8 869.5,493.8 940.5,493.8 1011.0,406.3 1081.0,432.6 1148.0,598.8 1218.5,507.8 1289.0,516.5 1359.4,616.3 1430.4,581.3 1502.0,598.8" stroke="rgb(255,99,10)"/>
<polyline points="727.4,616.3 799.0,360.8 869.5,476.3 940.5,476.3 1011.0,423.8 1081.0,450.1 1148.0,616.3 1218.5,528.8 1289.0,537.5 1359.4,590.0 1430.4,590.0 1502.0,598.8" stroke="rgb(255,93,8)"/>
<polyline points="727.4,528.8 799.0,397.6 869.5,502.6 940.5,572.5 1011.0,441.3 1081.0,360.8 1148.0,528.8 1218.5,516.5 1289.0,616.3 1359.4,572.5 1430.4,563.8 1502.0,616.3" stroke="rgb(255,88,6)"/>
<polyline points="727.4,507.8 799.0,360.8 869.5,528.8 940.5,458.8 1011.0,450.1 1081.0,441.3 1148.0,507.8 1218.5,493.8 1289.0,637.3 1359.4,581.3 1430.4,590.0 1502.0,649.5" stroke="rgb(255,82,4)"/>
<polyline points="727.4,520.0 799.0,373.1 869.5,546.3 940.5,537.5 1011.0,406.3 1081.0,441.3 1148.0,520.0 1218.5,485.1 1289.0,616.3 1359.4,625.0 1430.4,590.0 1502.0,598.8" stroke="rgb(255,77,2)"/>
<polyline points="727.4,528.8 799.0,311.8 869.5,525.3 940.5,485.1 1011.0,507.8 1081.0,458.8 1148.0,528.8 1218.5,572.5 1289.0,649.5 1359.4,607.5 1430.4,525.3 1502.0,528.8" stroke="rgb(255,71,0)"/>
<polyline points="727.4,563.8 799.0,450.1 869.5,406.3 940.5,458.8 1011.0,397.6 1081.0,415.1 1148.0,563.8 1218.5,607.5 1289.0,616.3 1359.4,572.5 1430.4,581.3 1502.0,581.3" stroke="rgb(255,70,0)"/>
<polyline points="727.4,525.3 799.0,373.1 869.5,432.6 940.5,476.3 1011.0,432.6 1081.0,415.1 1148.0,528.8 1218.5,590.0 1289.0,590.0 1359.4,607.5 1430.4,616.3 1502.0,607.5" stroke="rgb(255,70,0)"/>
<polyline points="727.4,520.0 799.0,373.1 869.5,555.0 940.5,502.6 1011.0,467.6 1081.0,397.6 1148.0,520.0 1218.5,598.8 1289.0,572.5 1359.4,563.8 1430.4,661.8 1502.0,555.0" stroke="rgb(255,70,0)"/>
<polyline points="727.4,607.5 799.0,373.1 869.5,485.1 940.5,458.8 1011.0,415.1 1081.0,423.8 1148.0,607.5 1218.5,572.5 1289.0,607.5 1359.4,563.8 1430.4,572.5 1502.0,563.8" stroke="rgb(255,70,0)"/>
<polyline points="727.4,485.1 799.0,406.3 869.5,432.6 940.5,537.5 1011.0,423.8 1081.0,432.6 1148.0,485.1 1218.5,625.0 1289.0,598.8 1359.4,572.5 1430.4,607.5 1502.0,598.8" stroke="rgb(255,70,0)"/>
<polyline points="727.4,572.5 799.0,373.1 869.5,497.3 940.5,485.1 1011.0,423.8 1081.0,423.8 1148.0,563.8 1218.5,528.8 1289.0,607.5 1359.4,598.8 1430.4,616.3 1502.0,563.8" stroke="rgb(255,70,0)"/>
<polyline points="727.4,520.0 799.0,385.3 869.5,525.3 940.5,467.6 1011.0,467.6 1081.0,385.3 1148.0,516.5 1218.5,590.0 1289.0,637.3 1359.4,625.0 1430.4,563.8 1502.0,555.0" stroke="rgb(255,70,0)"/>
<polyline points="727.4,493.8 799.0,324.1 869.5,507.8 940.5,525.3 1011.0,450.1 1081.0,493.8 1148.0,493.8 1218.5,649.5 1289.0,590.0 1359.4,563.8 1430.4,563.8 1502.0,598.8" stroke="rgb(255,70,0)"/>
<polyline points="727.4,546.3 799.0,397.6 869.5,485.1 940.5,432.6 1011.0,415.1 1081.0,415.1 1148.0,546.3 1218.5,607.5 1289.0,555.0 1359.4,581.3 1430.4,616.3 1502.0,661.8" stroke="rgb(255,70,0)"/>
<polyline points="727.4,493.8 799.0,415.1 869.5,397.6 940.5,458.8 1011.0,450.1 1081.0,485.1 1148.0,493.8 1218.5,572.5 1289.0,598.8 1359.4,625.0 1430.4,607.5 1502.0,625.0" stroke="rgb(255,70,0)"/>
<polyline points="727.4,555.0 799.0,311.8 869.5,506.1 940.5,520.0 1011.0,432.6 1081.0,485.1 1148.0,555.0 1218.5,546.3 1289.0,607.5 1359.4,581.3 1430.4,590.0 1502.0,581.3" stroke="rgb(255,70,0)"/>
<polyline points="727.4,485.1 799.0,385.3 869.5,506.1 940.5,520.0 1011.0,406.3 1081.0,485.1 1148.0,485.1 1218.5,625.0 1289.0,637.3 1359.4,555.0 1430.4,590.0 1502.0,555.0" stroke="rgb(255,70,0)"/>
<polyline points="727.4,555.0 799.0,397.6 869.5,537.5 940.5,441.3 1011.0,397.6 1081.0,432.6 1148.0,555.0 1218.5,528.8 1289.0,616.3 1359.4,607.5 1430.4,572.5 1502.0,607.5" stroke="rgb(255,70,0)"/>
<polyline points="727.4,555.0 799.0,360.8 869.5,450.1 940.5,450.1 1011.0,432.6 1081.0,467.6 1148.0,555.0 1218.5,637.3 1289.0,555.0 1359.4,563.8 1430.4,616.3 1502.0,563.8" stroke="rgb(255,70,0)"/>
<polyline points="727.4,537.5 799.0,373.1 869.5,497.3 940.5,502.6 1011.0,423.8 1081.0,432.6 1148.0,537.5 1218.5,598.8 1289.0,625.0 1359.4,616.3 1430.4,581.3 1502.0,546.3" stroke="rgb(255,70,0)"/>
<polyline points="727.4,572.5 799.0,336.3 869.5,485.1 940.5,485.1 1011.0,450.1 1081.0,485.1 1148.0,572.5 1218.5,528.8 1289.0,502.6 1359.4,616.3 1430.4,598.8 1502.0,616.3" stroke="rgb(255,70,0)"/>
<polyline points="727.4,546.3 799.0,311.8 869.5,476.3 940.5,546.3 1011.0,467.6 1081.0,537.5 1148.0,546.3 1218.5,607.5 1289.0,581.3 1359.4,572.5 1430.4,581.3 1502.0,555.0" stroke="rgb(255,70,0)"/>
<polyline points="727.4,555.0 799.0,432.6 869.5,432.6 940.5,458.8 1011.0,423.8 1081.0,397.6 1148.0,555.0 1218.5,590.0 1289.0,546.3 1359.4,616.3 1430.4,607.5 1502.0,607.5" stroke="rgb(255,70,0)"/>
<polyline points="727.4,555.0 799.0,324.1 869.5,493.8 940.5,511.3 1011.0,450.1 1081.0,476.3 1148.0,555.0 1218.5,590.0 1289.0,546.3 1359.4,637.3 1430.4,555.0 1502.0,563.8" stroke="rgb(255,70,0)"/>
</g>
<rect x="1108.7" y="274.8" width="7" height="472.49999999999994" fill="#000"/>
<line x1="724.7" y1="995.6" x2="724.7" y2="1464.5" stroke="#dcdcdc" stroke-width="2.8" filter="url(#b2)"/>
<line x1="796.2" y1="995.6" x2="796.2" y2="1464.5" stroke="#dcdcdc" stroke-width="2.8" filter="url(#b2)"/>
<line x1="866.2" y1="995.6" x2="866.2" y2="1464.5" stroke="#dcdcdc" stroke-width="2.8" filter="url(#b2)"/>
<line x1="936.6" y1="995.6" x2="936.6" y2="1464.5" stroke="#dcdcdc" stroke-width="2.8" filter="url(#b2)"/>
<line x1="1007.6" y1="995.6" x2="1007.6" y2="1464.5" stroke="#dcdcdc" stroke-width="2.8" filter="url(#b2)"/>
<line x1="1078" y1="995.6" x2="1078" y2="1464.5" stroke="#dcdcdc" stroke-width="2.8" filter="url(#b2)"/>
<line x1="1145.8" y1="995.6" x2="1145.8" y2="1464.5" stroke="#dcdcdc" stroke-width="2.8" filter="url(#b2)"/>
<line x1="1216.8" y1="995.6" x2="1216.8" y2="1464.5" stroke="#dcdcdc" stroke-width="2.8" filter="url(#b2)"/>
<line x1="1286.2" y1="995.6" x2="1286.2" y2="1464.5" stroke="#dcdcdc" stroke-width="2.8" filter="url(#b2)"/>
<line x1="1357.2" y1="995.6" x2="1357.2" y2="1464.5" stroke="#dcdcdc" stroke-width="2.8" filter="url(#b2)"/>
<line x1="1427.6" y1="995.6" x2="1427.6" y2="1464.5" stroke="#dcdcdc" stroke-width="2.8" filter="url(#b2)"/>
<line x1="1497.5" y1="995.6" x2="1497.5" y2="1464.5" stroke="#dcdcdc" stroke-width="2.8" filter="url(#b2)"/>
<line x1="719.7" y1="995.6" x2="1500.5" y2="995.6" stroke="#f3f3f3" stroke-width="1.5"/>
<line x1="719.7" y1="1464.5" x2="1500.5" y2="1464.5" stroke="#f3f3f3" stroke-width="1.5"/>
<g fill="none" stroke-width="3.1" stroke-linejoin="round" stroke-opacity="0.7" clip-path="url(#c2)" filter="url(#b2)">
<polyline points="724.7,1273.2 796.2,1113.1 866.2,1317.0 936.6,1308.2 1007.6,1317.0 1078.0,1343.2 1145.8,1273.2 1216.8,1103.5 1286.2,1243.5 1357.2,1264.5 1427.6,1177.0 1497.5,1168.2" stroke="rgb(90,255,50)"/>
<polyline points="724.7,1243.5 796.2,1451.8 866.2,1215.5 936.6,1308.2 1007.6,1264.5 1078.0,1264.5 1145.8,1243.5 1216.8,1185.8 1286.2,1168.2 1357.2,1124.5 1427.6,1185.8 1497.5,1215.5" stroke="rgb(132,255,46)"/>
<polyline points="724.7,1273.2 796.2,1234.8 866.2,1229.5 936.6,1334.5 1007.6,1299.5 1078.0,1290.8 1145.8,1282.0 1216.8,1238.2 1286.2,1017.8 1357.2,1215.5 1427.6,1255.8 1497.5,1203.2" stroke="rgb(157,255,43)"/>
<polyline points="724.7,1255.8 796.2,1142.0 866.2,1367.8 936.6,1343.2 1007.6,1273.2 1078.0,1282.0 1145.8,1255.8 1216.8,1091.2 1286.2,1133.2 1357.2,1255.8 1427.6,1247.0 1497.5,1194.5" stroke="rgb(200,252,38)"/>
<polyline points="724.7,1238.2 796.2,1399.2 866.2,1247.0 936.6,1317.0 1007.6,1255.8 1078.0,1255.8 1145.8,1238.2 1216.8,1150.8 1286.2,1168.2 1357.2,1203.2 1427.6,1185.8 1497.5,1133.2" stroke="rgb(230,243,34)"/>
<polyline points="724.7,1238.2 796.2,1255.8 866.2,1290.8 936.6,1343.2 1007.6,1343.2 1078.0,1334.5 1145.8,1238.2 1216.8,1290.8 1286.2,1212.0 1357.2,1142.0 1427.6,1142.0 1497.5,1079.0" stroke="rgb(255,235,30)"/>
<polyline points="724.7,1282.0 796.2,1325.8 866.2,1220.8 936.6,1325.8 1007.6,1317.0 1078.0,1247.0 1145.8,1282.0 1216.8,1124.5 1286.2,1308.2 1357.2,1185.8 1427.6,1133.2 1497.5,1150.8" stroke="rgb(255,235,30)"/>
<polyline points="724.7,1308.2 796.2,1367.8 866.2,1212.0 936.6,1229.5 1007.6,1308.2 1078.0,1317.0 1145.8,1308.2 1216.8,1212.0 1286.2,1079.0 1357.2,1133.2 1427.6,1224.2 1497.5,1194.5" stroke="rgb(255,222,30)"/>
<polyline points="724.7,1194.5 796.2,1273.2 866.2,1212.0 936.6,1273.2 1007.6,1392.2 1078.0,1392.2 1145.8,1185.8 1216.8,1203.2 1286.2,1159.5 1357.2,1185.8 1427.6,1177.0 1497.5,1168.2" stroke="rgb(255,222,30)"/>
<polyline points="724.7,1168.2 796.2,1194.5 866.2,1308.2 936.6,1404.5 1007.6,1290.8 1078.0,1290.8 1145.8,1168.2 1216.8,1142.0 1286.2,1220.8 1357.2,1308.2 1427.6,1203.2 1497.5,1185.8" stroke="rgb(255,222,30)"/>
<polyline points="724.7,1317.0 796.2,1387.0 866.2,1255.8 936.6,1282.0 1007.6,1185.8 1078.0,1229.5 1145.8,1325.8 1216.8,1255.8 1286.2,1124.5 1357.2,1168.2 1427.6,1185.8 1497.5,1142.0" stroke="rgb(255,214,30)"/>
<polyline points="724.7,1185.8 796.2,1185.8 866.2,1334.5 936.6,1299.5 1007.6,1380.0 1078.0,1334.5 1145.8,1185.8 1216.8,1124.5 1286.2,1264.5 1357.2,1273.2 1427.6,1185.8 1497.5,1133.2" stroke="rgb(255,200,30)"/>
<polyline points="724.7,1142.0 796.2,1380.0 866.2,1308.2 936.6,1273.2 1007.6,1308.2 1078.0,1334.5 1145.8,1142.0 1216.8,1150.8 1286.2,1238.2 1357.2,1226.0 1427.6,1212.0 1497.5,1133.2" stroke="rgb(255,150,25)"/>
<polyline points="724.7,1177.0 796.2,1343.2 866.2,1282.0 936.6,1334.5 1007.6,1317.0 1078.0,1355.5 1145.8,1177.0 1216.8,1150.8 1286.2,1150.8 1357.2,1142.0 1427.6,1185.8 1497.5,1185.8" stroke="rgb(255,106,12)"/>
<polyline points="724.7,1264.5 796.2,1264.5 866.2,1380.0 936.6,1282.0 1007.6,1282.0 1078.0,1247.0 1145.8,1264.5 1216.8,1054.5 1286.2,1282.0 1357.2,1159.5 1427.6,1226.0 1497.5,1142.0" stroke="rgb(255,106,12)"/>
<polyline points="724.7,1255.8 796.2,1325.8 866.2,1317.0 936.6,1325.8 1007.6,1299.5 1078.0,1299.5 1145.8,1255.8 1216.8,1124.5 1286.2,1133.2 1357.2,1150.8 1427.6,1273.2 1497.5,1142.0" stroke="rgb(255,106,12)"/>
<polyline points="724.7,1247.0 796.2,1325.8 866.2,1367.8 936.6,1325.8 1007.6,1247.0 1078.0,1273.2 1145.8,1247.0 1216.8,1159.5 1286.2,1220.8 1357.2,1185.8 1427.6,1133.2 1497.5,1124.5" stroke="rgb(255,106,12)"/>
<polyline points="724.7,1282.0 796.2,1299.5 866.2,1299.5 936.6,1290.8 1007.6,1290.8 1078.0,1317.0 1145.8,1282.0 1216.8,1124.5 1286.2,1079.0 1357.2,1229.5 1427.6,1185.8 1497.5,1168.2" stroke="rgb(255,106,12)"/>
<polyline points="724.7,1325.8 796.2,1317.0 866.2,1317.0 936.6,1317.0 1007.6,1220.8 1078.0,1229.5 1145.8,1325.8 1216.8,1142.0 1286.2,1103.5 1357.2,1229.5 1427.6,1159.5 1497.5,1203.2" stroke="rgb(255,106,12)"/>
<polyline points="724.7,1343.2 796.2,1234.8 866.2,1282.0 936.6,1299.5 1007.6,1243.5 1078.0,1290.8 1145.8,1343.2 1216.8,1224.2 1286.2,1168.2 1357.2,1142.0 1427.6,1142.0 1497.5,1142.0" stroke="rgb(255,106,12)"/>
<polyline points="724.7,1273.2 796.2,1234.8 866.2,1290.8 936.6,1367.8 1007.6,1367.8 1078.0,1282.0 1145.8,1273.2 1216.8,1185.8 1286.2,1142.0 1357.2,1115.8 1427.6,1194.5 1497.5,1185.8" stroke="rgb(255,106,12)"/>
</g>
<rect x="1108.7" y="993.1" width="7" height="473.4" fill="#000"/>
<text x="857.4" y="279.4" font-size="35" textLength="131" lengthAdjust="spacingAndGlyphs">Placebo</text>
<text x="857.4" y="993.0" font-size="35" textLength="131" lengthAdjust="spacingAndGlyphs">Placebo</text>
<text x="1295.8" y="277.4" font-size="36" font-weight="bold" fill="#c00000" textLength="90" lengthAdjust="spacingAndGlyphs">Beet</text>
<text x="1295.8" y="995.8" font-size="36" font-weight="bold" fill="#c00000" textLength="90" lengthAdjust="spacingAndGlyphs">Beet</text>
<line x1="696" y1="769" x2="1096.7" y2="769" stroke="#b4c7e7" stroke-width="1.6"/>
<line x1="696" y1="824.5" x2="1096.7" y2="824.5" stroke="#b4c7e7" stroke-width="1.6"/>
<text x="723" y="791.6" font-size="16.5" fill="#222" text-anchor="middle" textLength="28" lengthAdjust="spacingAndGlyphs" stroke="#222" stroke-width="0.35">Pre-</text>
<text x="721.5" y="814.4" font-size="16.5" fill="#222" text-anchor="middle" textLength="37" lengthAdjust="spacingAndGlyphs" stroke="#222" stroke-width="0.35">Study</text>
<text x="798.7" y="792.5" font-size="15.5" fill="#222" text-anchor="middle" textLength="43" lengthAdjust="spacingAndGlyphs" stroke="#222" stroke-width="0.35">2-wks</text>
<text x="800.2" y="813.9" font-size="11.5" fill="#333" text-anchor="middle" textLength="90" lengthAdjust="spacingAndGlyphs" stroke="#222" stroke-width="0.35">Supplementation</text>
<text x="863" y="791.6" font-size="16.5" fill="#222" text-anchor="middle" textLength="17" lengthAdjust="spacingAndGlyphs" stroke="#222" stroke-width="0.35">0h</text>
<text x="935" y="791.6" font-size="16.5" fill="#222" text-anchor="middle" textLength="28.5" lengthAdjust="spacingAndGlyphs" stroke="#222" stroke-width="0.35">1.5h</text>
<text x="1006" y="791.6" font-size="16.5" fill="#222" text-anchor="middle" textLength="17" lengthAdjust="spacingAndGlyphs" stroke="#222" stroke-width="0.35">3h</text>
<text x="1075.4" y="791.6" font-size="16.5" fill="#222" text-anchor="middle" textLength="25" lengthAdjust="spacingAndGlyphs" stroke="#222" stroke-width="0.35">24h</text>
<text x="976.6" y="814.4" font-size="16.5" fill="#222" text-anchor="middle" textLength="169.5" lengthAdjust="spacingAndGlyphs" stroke="#222" stroke-width="0.35">Post-Exercise Time Points</text>
<line x1="1127" y1="768.5" x2="1528.6" y2="768.5" stroke="#b4c7e7" stroke-width="1.6"/>
<line x1="1127" y1="823.7" x2="1528.6" y2="823.7" stroke="#b4c7e7" stroke-width="1.6"/>
<text x="1154.9" y="791.1" font-size="16.5" fill="#222" text-anchor="middle" textLength="28" lengthAdjust="spacingAndGlyphs" stroke="#222" stroke-width="0.35">Pre-</text>
<text x="1153.4" y="813.9" font-size="16.5" fill="#222" text-anchor="middle" textLength="37" lengthAdjust="spacingAndGlyphs" stroke="#222" stroke-width="0.35">Study</text>
<text x="1229.6" y="792.0" font-size="15.5" fill="#222" text-anchor="middle" textLength="43" lengthAdjust="spacingAndGlyphs" stroke="#222" stroke-width="0.35">2-wks</text>
<text x="1231.1" y="813.4" font-size="11.5" fill="#333" text-anchor="middle" textLength="90" lengthAdjust="spacingAndGlyphs" stroke="#222" stroke-width="0.35">Supplementation</text>
<text x="1294.7" y="791.1" font-size="16.5" fill="#222" text-anchor="middle" textLength="17" lengthAdjust="spacingAndGlyphs" stroke="#222" stroke-width="0.35">0h</text>
<text x="1366" y="791.1" font-size="16.5" fill="#222" text-anchor="middle" textLength="28.5" lengthAdjust="spacingAndGlyphs" stroke="#222" stroke-width="0.35">1.5h</text>
<text x="1437.6" y="791.1" font-size="16.5" fill="#222" text-anchor="middle" textLength="17" lengthAdjust="spacingAndGlyphs" stroke="#222" stroke-width="0.35">3h</text>
<text x="1506.5" y="791.1" font-size="16.5" fill="#222" text-anchor="middle" textLength="25" lengthAdjust="spacingAndGlyphs" stroke="#222" stroke-width="0.35">24h</text>
<text x="1408.0" y="813.9" font-size="16.5" fill="#222" text-anchor="middle" textLength="169.5" lengthAdjust="spacingAndGlyphs" stroke="#222" stroke-width="0.35">Post-Exercise Time Points</text>
<line x1="696.4" y1="1492.2" x2="1096.3" y2="1492.2" stroke="#b4c7e7" stroke-width="1.6"/>
<line x1="696.4" y1="1546.0" x2="1096.3" y2="1546.0" stroke="#b4c7e7" stroke-width="1.6"/>
<text x="723" y="1513.8" font-size="16.5" fill="#222" text-anchor="middle" textLength="28" lengthAdjust="spacingAndGlyphs" stroke="#222" stroke-width="0.35">Pre-</text>
<text x="721.5" y="1537.4" font-size="16.5" fill="#222" text-anchor="middle" textLength="37" lengthAdjust="spacingAndGlyphs" stroke="#222" stroke-width="0.35">Study</text>
<text x="798.7" y="1514.7" font-size="15.5" fill="#222" text-anchor="middle" textLength="43" lengthAdjust="spacingAndGlyphs" stroke="#222" stroke-width="0.35">2-wks</text>
<text x="800.2" y="1536.9" font-size="11.5" fill="#333" text-anchor="middle" textLength="90" lengthAdjust="spacingAndGlyphs" stroke="#222" stroke-width="0.35">Supplementation</text>
<text x="863" y="1513.8" font-size="16.5" fill="#222" text-anchor="middle" textLength="17" lengthAdjust="spacingAndGlyphs" stroke="#222" stroke-width="0.35">0h</text>
<text x="935" y="1513.8" font-size="16.5" fill="#222" text-anchor="middle" textLength="28.5" lengthAdjust="spacingAndGlyphs" stroke="#222" stroke-width="0.35">1.5h</text>
<text x="1006" y="1513.8" font-size="16.5" fill="#222" text-anchor="middle" textLength="17" lengthAdjust="spacingAndGlyphs" stroke="#222" stroke-width="0.35">3h</text>
<text x="1075.4" y="1513.8" font-size="16.5" fill="#222" text-anchor="middle" textLength="25" lengthAdjust="spacingAndGlyphs" stroke="#222" stroke-width="0.35">24h</text>
<text x="976.6" y="1537.4" font-size="16.5" fill="#222" text-anchor="middle" textLength="169.5" lengthAdjust="spacingAndGlyphs" stroke="#222" stroke-width="0.35">Post-Exercise Time Points</text>
<line x1="1127.4" y1="1492.2" x2="1528.4" y2="1492.2" stroke="#b4c7e7" stroke-width="1.6"/>
<line x1="1127.4" y1="1546.0" x2="1528.4" y2="1546.0" stroke="#b4c7e7" stroke-width="1.6"/>
<text x="1154.9" y="1513.8" font-size="16.5" fill="#222" text-anchor="middle" textLength="28" lengthAdjust="spacingAndGlyphs" stroke="#222" stroke-width="0.35">Pre-</text>
<text x="1153.4" y="1537.4" font-size="16.5" fill="#222" text-anchor="middle" textLength="37" lengthAdjust="spacingAndGlyphs" stroke="#222" stroke-width="0.35">Study</text>
<text x="1229.6" y="1514.7" font-size="15.5" fill="#222" text-anchor="middle" textLength="43" lengthAdjust="spacingAndGlyphs" stroke="#222" stroke-width="0.35">2-wks</text>
<text x="1231.1" y="1536.9" font-size="11.5" fill="#333" text-anchor="middle" textLength="90" lengthAdjust="spacingAndGlyphs" stroke="#222" stroke-width="0.35">Supplementation</text>
<text x="1294.7" y="1513.8" font-size="16.5" fill="#222" text-anchor="middle" textLength="17" lengthAdjust="spacingAndGlyphs" stroke="#222" stroke-width="0.35">0h</text>
<text x="1366" y="1513.8" font-size="16.5" fill="#222" text-anchor="middle" textLength="28.5" lengthAdjust="spacingAndGlyphs" stroke="#222" stroke-width="0.35">1.5h</text>
<text x="1437.6" y="1513.8" font-size="16.5" fill="#222" text-anchor="middle" textLength="17" lengthAdjust="spacingAndGlyphs" stroke="#222" stroke-width="0.35">3h</text>
<text x="1506.5" y="1513.8" font-size="16.5" fill="#222" text-anchor="middle" textLength="25" lengthAdjust="spacingAndGlyphs" stroke="#222" stroke-width="0.35">24h</text>
<text x="1408.0" y="1537.4" font-size="16.5" fill="#222" text-anchor="middle" textLength="169.5" lengthAdjust="spacingAndGlyphs" stroke="#222" stroke-width="0.35">Post-Exercise Time Points</text>
</svg>
</body>
</html>
